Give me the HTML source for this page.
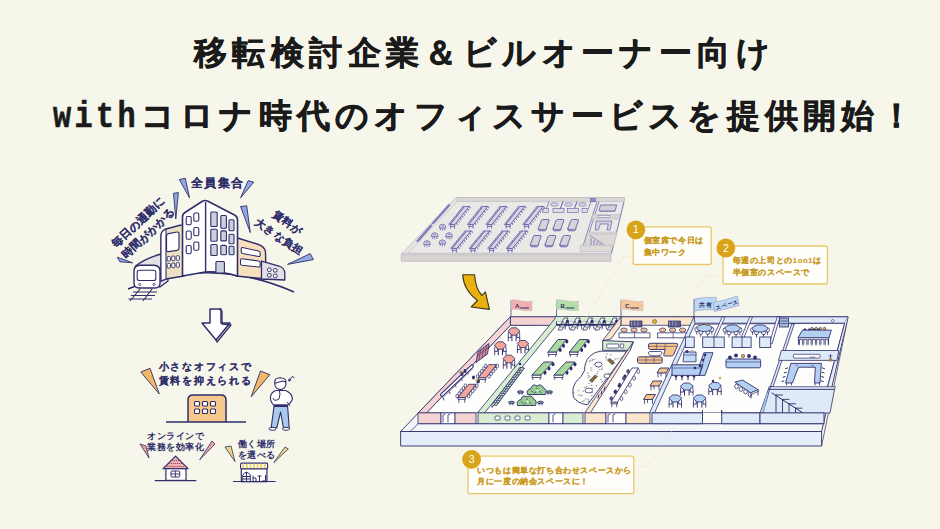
<!DOCTYPE html>
<html lang="ja"><head><meta charset="utf-8"><style>
html,body{margin:0;padding:0}
body{background:#f6f6ea;font-family:"Liberation Sans",sans-serif;width:940px;height:529px;position:relative;overflow:hidden}
.t{position:absolute;white-space:nowrap;font-weight:bold;color:#1a1a1a;-webkit-text-stroke:0.6px #1a1a1a;line-height:1.2}
svg{position:absolute;left:0;top:0}
svg text{font-family:"Liberation Sans",sans-serif}
.lb{stroke:#2f2e6b;stroke-width:0.08px}
</style></head><body>
<div class="t" style="left:194px;top:33.2px;font-size:33px;letter-spacing:5.4px">移転検討企業＆ビルオーナー向け</div>
<div class="t" style="left:53px;top:95.6px;font-size:33px;letter-spacing:5.25px"><span style="display:inline-block;font-family:'Liberation Mono',monospace;font-size:36px;letter-spacing:4.0px;transform:scaleX(0.84);transform-origin:0 0;margin-right:-14.5px">with</span>コロナ時代のオフィスサービスを提供開始！</div>
<svg width="940" height="529" viewBox="0 0 940 529">
<polygon points="179.3,179.5 185.3,178.3 189.5,197.8" fill="#93a8e2" stroke="#2f2e6b" stroke-width="0.9" stroke-linejoin="round"/>
<polygon points="248.2,180.6 253.8,182.2 240.6,197.8" fill="#93a8e2" stroke="#2f2e6b" stroke-width="0.9" stroke-linejoin="round"/>
<polygon points="173.5,193.3 178.4,192.6 175.8,219" fill="#93a8e2" stroke="#2f2e6b" stroke-width="0.9" stroke-linejoin="round"/>
<polygon points="117.3,257.2 119.9,261.8 132.7,262.8" fill="#93a8e2" stroke="#2f2e6b" stroke-width="0.9" stroke-linejoin="round"/>
<polygon points="240.6,206.6 246.7,205.8 250.3,232.6" fill="#93a8e2" stroke="#2f2e6b" stroke-width="0.9" stroke-linejoin="round"/>
<polygon points="310.2,253.6 313.4,259.6 287.5,264.4" fill="#93a8e2" stroke="#2f2e6b" stroke-width="0.9" stroke-linejoin="round"/>
<path d="M128,289 Q210,255 294,292" fill="none" stroke="#2f2e6b" stroke-width="1.6"/>
<path d="M135.4,266 Q146,258 161,254 L168,256 L168,281 L160,287 Z" fill="#e3e2e8" stroke="#2f2e6b" stroke-width="1.3" stroke-linejoin="round"/>
<path d="M134,271 Q134,265.5 140,265.2 L154,265.2 Q160,265.5 160,271 L160,283 Q160,288 155,288 L139,288 Q134,288 134,283 Z" fill="#fff" stroke="#2f2e6b" stroke-width="1.4"/>
<rect x="137.2" y="270.3" width="18.6" height="10.2" rx="2" fill="#fff" stroke="#2f2e6b" stroke-width="1.1"/>
<circle cx="139.7" cy="284.5" r="1.1" fill="#fff" stroke="#2f2e6b" stroke-width="0.8"/><circle cx="154.1" cy="284.5" r="1.1" fill="#fff" stroke="#2f2e6b" stroke-width="0.8"/>
<path d="M140,289 L130,301 M152,289 L143,301 M133,292 L157,292 M131,295.5 L155,295.5 M128.5,299 L152,299" stroke="#2f2e6b" stroke-width="1.1" fill="none"/>
<path d="M161,236 Q161,231 166,229 L180,225.2 Q184,224.5 184,228 L184,276 L166,279 L161,281 Z" fill="#ece2c2" stroke="#2f2e6b" stroke-width="1.4" stroke-linejoin="round"/>
<path d="M161,236 Q161,231 166,229 L166,279 L161,281 Z" fill="#fff" stroke="#2f2e6b" stroke-width="1.1"/>
<path d="M166.5,236 Q166.5,234 168.5,233.6 L177,232 Q179,231.8 179,234 L179,248 Q179,250 177,250.3 L168.5,251.6 Q166.5,252 166.5,250 Z" fill="#fff" stroke="#2f2e6b" stroke-width="1.2"/>
<rect x="167.2" y="256.5" width="3.2" height="4.6" rx="1" fill="#fff" stroke="#2f2e6b" stroke-width="0.95"/>
<rect x="171.7" y="256.1" width="3.2" height="4.6" rx="1" fill="#fff" stroke="#2f2e6b" stroke-width="0.95"/>
<rect x="176.2" y="255.7" width="3.2" height="4.6" rx="1" fill="#fff" stroke="#2f2e6b" stroke-width="0.95"/>
<rect x="167.2" y="263.5" width="3.2" height="4.6" rx="1" fill="#fff" stroke="#2f2e6b" stroke-width="0.95"/>
<rect x="171.7" y="263.1" width="3.2" height="4.6" rx="1" fill="#fff" stroke="#2f2e6b" stroke-width="0.95"/>
<rect x="176.2" y="262.7" width="3.2" height="4.6" rx="1" fill="#fff" stroke="#2f2e6b" stroke-width="0.95"/>
<path d="M236,237.5 L257,244 Q265,246.5 265.5,252 L266,279 L236,276 Z" fill="#f8dfbd" stroke="#2f2e6b" stroke-width="1.4" stroke-linejoin="round"/>
<path d="M242.5,247.5 L258.5,251 Q260.3,251.5 260.2,253 L260.2,255 Q260.2,256.8 258.5,256.5 L242.5,253.5 Q241.2,253.2 241.2,251.7 L241.2,249 Q241.2,247.3 242.5,247.5 Z" fill="#fff" stroke="#2f2e6b" stroke-width="1.1"/>
<path d="M242,258.8 L258.5,261 Q260.2,261.3 260.2,262.8 L260.2,265.5 Q260.2,267.2 258.5,267 L242,265.3 Q240.5,265.1 240.5,263.6 L240.5,260.3 Q240.5,258.6 242,258.8 Z" fill="#fff" stroke="#2f2e6b" stroke-width="1.1"/>
<path d="M261.5,261 L279,266 Q284.5,268 284.8,273 L284.8,280 L261.5,279 Z" fill="#e2e1e6" stroke="#2f2e6b" stroke-width="1.3" stroke-linejoin="round"/>
<rect x="267.5" y="268.0" width="3.6" height="3.4" rx="1.2" fill="#fff" stroke="#2f2e6b" stroke-width="1"/>
<rect x="273.5" y="268.6" width="3.6" height="3.4" rx="1.2" fill="#fff" stroke="#2f2e6b" stroke-width="1"/>
<rect x="267.5" y="273.6" width="3.6" height="3.4" rx="1.2" fill="#fff" stroke="#2f2e6b" stroke-width="1"/>
<rect x="273.5" y="274.2" width="3.6" height="3.4" rx="1.2" fill="#fff" stroke="#2f2e6b" stroke-width="1"/>
<path d="M182.5,276 L182.5,217 Q182.5,214 185,212.5 L202,201.5 Q204.8,199.8 207.5,201 L234.5,215 Q237.5,216.5 237.5,220 L237.5,276 Q220,271 205,272 Z" fill="#fff" stroke="#2f2e6b" stroke-width="1.6" stroke-linejoin="round"/>
<path d="M205.6,202 L205.6,273" stroke="#2f2e6b" stroke-width="1.4"/>
<rect x="186.2" y="216.5" width="5" height="8.2" rx="1.4" fill="#fff" stroke="#2f2e6b" stroke-width="1.1"/>
<rect x="193.79999999999998" y="213.0" width="5" height="8.2" rx="1.4" fill="#fff" stroke="#2f2e6b" stroke-width="1.1"/>
<rect x="186.2" y="231.0" width="5" height="8.2" rx="1.4" fill="#fff" stroke="#2f2e6b" stroke-width="1.1"/>
<rect x="193.79999999999998" y="227.5" width="5" height="8.2" rx="1.4" fill="#fff" stroke="#2f2e6b" stroke-width="1.1"/>
<rect x="186.2" y="245.5" width="5" height="8.2" rx="1.4" fill="#fff" stroke="#2f2e6b" stroke-width="1.1"/>
<rect x="193.79999999999998" y="242.0" width="5" height="8.2" rx="1.4" fill="#fff" stroke="#2f2e6b" stroke-width="1.1"/>
<rect x="210.8" y="212" width="6.4" height="14.5" rx="1" fill="#c9d0de" stroke="#2f2e6b" stroke-width="1.1"/>
<rect x="210.8" y="229.2" width="6.4" height="12" rx="1" fill="#c9d0de" stroke="#2f2e6b" stroke-width="1.1"/>
<rect x="210.8" y="244.5" width="6.4" height="11" rx="1" fill="#c9d0de" stroke="#2f2e6b" stroke-width="1.1"/>
<rect x="220.8" y="215.5" width="5.6" height="12.8" rx="1" fill="#c9d0de" stroke="#2f2e6b" stroke-width="1.1"/>
<rect x="220.8" y="230.9" width="5.6" height="10" rx="1" fill="#c9d0de" stroke="#2f2e6b" stroke-width="1.1"/>
<rect x="220.8" y="245.4" width="5.6" height="9.4" rx="1" fill="#c9d0de" stroke="#2f2e6b" stroke-width="1.1"/>
<rect x="229" y="219.8" width="5" height="11" rx="1" fill="#c9d0de" stroke="#2f2e6b" stroke-width="1.1"/>
<rect x="229" y="234.3" width="5" height="9.4" rx="1" fill="#c9d0de" stroke="#2f2e6b" stroke-width="1.1"/>
<rect x="229" y="246.2" width="5" height="8.5" rx="1" fill="#c9d0de" stroke="#2f2e6b" stroke-width="1.1"/>
<rect x="215.9" y="261.5" width="8.5" height="11.5" rx="1" fill="#c9d0de" stroke="#2f2e6b" stroke-width="1.1"/>
<text x="190.5" y="187" font-size="11.5" font-weight="bold" class="lb" fill="#2f2e6b" letter-spacing="1.6">全員集合</text>
<text transform="translate(116,248) rotate(-43)" font-size="11" font-weight="bold" class="lb" fill="#2f2e6b" letter-spacing="0.3">毎日の通勤に</text>
<text transform="translate(126,259) rotate(-43)" font-size="11" font-weight="bold" class="lb" fill="#2f2e6b" letter-spacing="0.3">時間がかかる</text>
<text transform="translate(271.5,215.5) rotate(36)" font-size="10.5" font-weight="bold" class="lb" fill="#2f2e6b" letter-spacing="0.3">賃料が</text>
<text transform="translate(254,224) rotate(34)" font-size="10.5" font-weight="bold" class="lb" fill="#2f2e6b" letter-spacing="0.3">大きな負担</text>
<path d="M210,309 L221,309 L221,323 L230,323 L216,340 L202,323 L210,323 Z" fill="#fff" stroke="#2f2e6b" stroke-width="1.5" stroke-linejoin="round"/>
<path d="M219,309 L222,311 L222,324 L231,325 L217,342 L216,340" fill="none" stroke="#2f2e6b" stroke-width="1.3" stroke-linejoin="round"/>
<text x="158.5" y="369.8" font-size="10.2" font-weight="bold" class="lb" fill="#2f2e6b" letter-spacing="1.8">小さなオフィスで</text>
<text x="158.5" y="383.6" font-size="10.2" font-weight="bold" class="lb" fill="#2f2e6b" letter-spacing="1.8">賃料を抑えられる</text>
<polygon points="140.8,372 150,368.3 159.3,394" fill="#f3b867" stroke="#2f2e6b" stroke-width="0.9" stroke-linejoin="round"/>
<polygon points="260.5,371 269.8,374.7 251.2,396.7" fill="#f3b867" stroke="#2f2e6b" stroke-width="0.9" stroke-linejoin="round"/>
<path d="M188,422 L188,400 Q188,395 193,395 L221,395 Q226,395 226,400 L226,422" fill="#f5c88d" stroke="#2f2e6b" stroke-width="1.5"/>
<rect x="194.5" y="401.5" width="5" height="4.5" rx="1" fill="#fff" stroke="#2f2e6b" stroke-width="1.1"/>
<rect x="202.5" y="401.5" width="5" height="4.5" rx="1" fill="#fff" stroke="#2f2e6b" stroke-width="1.1"/>
<rect x="210.5" y="401.5" width="5" height="4.5" rx="1" fill="#fff" stroke="#2f2e6b" stroke-width="1.1"/>
<rect x="194.5" y="409.0" width="5" height="4.5" rx="1" fill="#fff" stroke="#2f2e6b" stroke-width="1.1"/>
<rect x="202.5" y="409.0" width="5" height="4.5" rx="1" fill="#fff" stroke="#2f2e6b" stroke-width="1.1"/>
<rect x="210.5" y="409.0" width="5" height="4.5" rx="1" fill="#fff" stroke="#2f2e6b" stroke-width="1.1"/>
<path d="M166,422 L246,422" stroke="#2f2e6b" stroke-width="1.6"/>
<path d="M274,406.5 L271.2,427.8 L276.8,427.8 L280.6,412 L283.4,427.8 L289.2,427.8 L287.6,406.5 Z" fill="#aac8ee" stroke="#2f2e6b" stroke-width="1.1" stroke-linejoin="round"/>
<path d="M276,390.5 Q271,392 270.5,397 Q270,401 273.5,405 L287.8,405 Q291,403 292.5,399 Q292,393 285.5,390.5 Z" fill="#fff" stroke="#2f2e6b" stroke-width="1.1" stroke-linejoin="round"/>
<path d="M273,398 Q274,402 279,399 Q281,394 279,389" fill="none" stroke="#2f2e6b" stroke-width="1"/>
<path d="M287,402 L290,406" fill="none" stroke="#2f2e6b" stroke-width="0.9"/>
<rect x="273.5" y="404.6" width="14.3" height="2.2" fill="#2f2e6b"/>
<circle cx="280.4" cy="384" r="5.6" fill="#fff" stroke="#2f2e6b" stroke-width="1.1"/>
<path d="M274.8,383 Q274,378 280,377.8 Q286,378 286,382 L283,381 Q279,382 276,383 Z" fill="#fff" stroke="#2f2e6b" stroke-width="1.1" stroke-linejoin="round"/>
<ellipse cx="272.5" cy="428.8" rx="3.6" ry="1.5" fill="#fff" stroke="#2f2e6b" stroke-width="1"/><ellipse cx="286" cy="428.8" rx="3.6" ry="1.5" fill="#fff" stroke="#2f2e6b" stroke-width="1"/>
<path d="M290,380 L292,376.5 L294.5,377.5 M289.5,380.5 a1,0.8 0 1 1 0.1,0" fill="none" stroke="#2f2e6b" stroke-width="0.9"/>
<circle cx="289.4" cy="380.6" r="1" fill="#2f2e6b"/>
<text x="147" y="439.2" font-size="9" font-weight="bold" fill="#2f2e6b" letter-spacing="0.58">オンラインで</text>
<text x="147" y="450.2" font-size="9" font-weight="bold" fill="#2f2e6b" letter-spacing="0.58">業務を効率化</text>
<polygon points="140,444 146,446 149,458" fill="#eba3a3" stroke="#2f2e6b" stroke-width="0.8"/>
<polygon points="212,441 215,444 199.7,459.8" fill="#eba3a3" stroke="#2f2e6b" stroke-width="0.8"/>
<path d="M163.1,468.7 L175.6,456.2 L188,468.7 Z" fill="#f0b3b3" stroke="#2f2e6b" stroke-width="1.2" stroke-linejoin="round"/>
<path d="M172,460.5 l7,0 M169,463.5 l13,0 M166.5,466.5 l18,0" stroke="#a0485a" stroke-width="1.1" stroke-dasharray="1.2 0.8"/>
<rect x="165.9" y="468.7" width="20.1" height="11.7" fill="#fff" stroke="#2f2e6b" stroke-width="1.2"/>
<rect x="171" y="471" width="8.7" height="6" rx="1" fill="#fff" stroke="#2f2e6b" stroke-width="1"/>
<path d="M175.35,471 l0,6 M171,474 l8.7,0" stroke="#2f2e6b" stroke-width="0.9"/>
<path d="M154.8,480.6 L196.3,480.6" stroke="#2f2e6b" stroke-width="1.3"/>
<text x="237.6" y="446.6" font-size="9" font-weight="bold" fill="#2f2e6b" letter-spacing="0.55">働く場所</text>
<text x="237.6" y="457.6" font-size="9" font-weight="bold" fill="#2f2e6b" letter-spacing="0.55">を選べる</text>
<polygon points="225,447 231,446 235,461.6" fill="#f1d878" stroke="#2f2e6b" stroke-width="0.8"/>
<polygon points="285,447 288.3,449 273.8,462.5" fill="#f1d878" stroke="#2f2e6b" stroke-width="0.8"/>
<rect x="241.3" y="468.7" width="25.6" height="13" fill="#fff" stroke="#2f2e6b" stroke-width="1.2"/>
<rect x="240.6" y="463.1" width="27" height="5.6" rx="1" fill="#fff" stroke="#2f2e6b" stroke-width="1.1"/>
<rect x="242.2" y="463.8" width="2" height="4.2" fill="#f0d46a"/>
<rect x="245.8" y="463.8" width="2" height="4.2" fill="#f0d46a"/>
<rect x="249.4" y="463.8" width="2" height="4.2" fill="#f0d46a"/>
<rect x="253.0" y="463.8" width="2" height="4.2" fill="#f0d46a"/>
<rect x="256.6" y="463.8" width="2" height="4.2" fill="#f0d46a"/>
<rect x="260.2" y="463.8" width="2" height="4.2" fill="#f0d46a"/>
<rect x="263.8" y="463.8" width="2" height="4.2" fill="#f0d46a"/>
<path d="M242.8,481.8 L242.8,475 Q246.5,469.5 250.3,475 L250.3,481.8 M246.5,472 l0,9.8 M242.8,476.5 l7.5,0 M242.8,479 l7.5,0" fill="none" stroke="#2f2e6b" stroke-width="1"/>
<path d="M253,481.5 l0,-6 M253,478 l3,0 l0,3.5 M257.5,476 l4,0 M259.5,476 l0,5.5 M262,481 l3.5,0 l0,-6" fill="none" stroke="#2f2e6b" stroke-width="1"/>
<path d="M233,481.5 L275.6,481.5" stroke="#2f2e6b" stroke-width="1.2"/>
<polygon points="456.2,197.6 624.6,197.6 611,254 401.3,254" fill="#e6e4e0" stroke="#bdb9c9" stroke-width="0.8"/>
<polygon points="401.3,254 611,254 611,261.2 401.3,261.2" fill="#d9d6d2" stroke="#bdb9c9" stroke-width="0.8"/>
<path d="M401.3,255.3 L611,255.3" stroke="#cbc8c6" stroke-width="0.6"/>
<polygon points="456.2,197.6 624.6,197.6 624,201.6 457,201.6" fill="#d9d6d2" stroke="#bdb9c9" stroke-width="0.6"/>
<polygon points="457,201.6 624,201.6 611.5,253.2 408,253.2" fill="#ebe9e6" stroke="#bdb9c9" stroke-width="0.6"/>
<path d="M417.5,241 L431,225.5 M433,223 L449,205" stroke="#8d8bc4" stroke-width="2.4" stroke-linecap="round"/>
<path d="M418.5,241 L431.5,226 M433.5,223.5 L449.5,205.5" stroke="#625fad" stroke-width="0.9" stroke-linecap="round" stroke-dasharray="2 1"/>
<path d="M451.1,222.6 l-2.2,1.2 l0.4,1.2 M455.3,222.6 l2.2,1.2 l-0.4,1.2" stroke="#625fad" stroke-width="0.85" fill="none"/>
<path d="M452.9,220.2 l-2.2,1.2 l0.4,1.2 M457.1,220.2 l2.2,1.2 l-0.4,1.2" stroke="#625fad" stroke-width="0.85" fill="none"/>
<path d="M454.8,217.9 l-2.2,1.2 l0.4,1.2 M459.0,217.9 l2.2,1.2 l-0.4,1.2" stroke="#625fad" stroke-width="0.85" fill="none"/>
<path d="M456.7,215.5 l-2.2,1.2 l0.4,1.2 M460.9,215.5 l2.2,1.2 l-0.4,1.2" stroke="#625fad" stroke-width="0.85" fill="none"/>
<path d="M458.5,213.1 l-2.2,1.2 l0.4,1.2 M462.7,213.1 l2.2,1.2 l-0.4,1.2" stroke="#625fad" stroke-width="0.85" fill="none"/>
<path d="M460.4,210.7 l-2.2,1.2 l0.4,1.2 M464.6,210.7 l2.2,1.2 l-0.4,1.2" stroke="#625fad" stroke-width="0.85" fill="none"/>
<path d="M462.3,208.4 l-2.2,1.2 l0.4,1.2 M466.5,208.4 l2.2,1.2 l-0.4,1.2" stroke="#625fad" stroke-width="0.85" fill="none"/>
<path d="M464.1,206.0 l-2.2,1.2 l0.4,1.2 M468.3,206.0 l2.2,1.2 l-0.4,1.2" stroke="#625fad" stroke-width="0.85" fill="none"/>
<path d="M450.3,224.5 L464.5,206.5 L469.1,206.5 L454.90000000000003,224.5 Z" fill="#d6d4dc" stroke="#625fad" stroke-width="0.9" stroke-linejoin="round"/>
<path d="M450.3,224.5 l0,1.8 l4.6,0 l0,-1.8 M450.7,226.3 l0,2.2 M454.50000000000006,226.3 l0,2.2" stroke="#625fad" stroke-width="0.9" fill="none"/>
<path d="M469.6,222.6 l-2.2,1.2 l0.4,1.2 M473.8,222.6 l2.2,1.2 l-0.4,1.2" stroke="#625fad" stroke-width="0.85" fill="none"/>
<path d="M471.4,220.2 l-2.2,1.2 l0.4,1.2 M475.6,220.2 l2.2,1.2 l-0.4,1.2" stroke="#625fad" stroke-width="0.85" fill="none"/>
<path d="M473.3,217.9 l-2.2,1.2 l0.4,1.2 M477.5,217.9 l2.2,1.2 l-0.4,1.2" stroke="#625fad" stroke-width="0.85" fill="none"/>
<path d="M475.2,215.5 l-2.2,1.2 l0.4,1.2 M479.4,215.5 l2.2,1.2 l-0.4,1.2" stroke="#625fad" stroke-width="0.85" fill="none"/>
<path d="M477.0,213.1 l-2.2,1.2 l0.4,1.2 M481.2,213.1 l2.2,1.2 l-0.4,1.2" stroke="#625fad" stroke-width="0.85" fill="none"/>
<path d="M478.9,210.7 l-2.2,1.2 l0.4,1.2 M483.1,210.7 l2.2,1.2 l-0.4,1.2" stroke="#625fad" stroke-width="0.85" fill="none"/>
<path d="M480.8,208.4 l-2.2,1.2 l0.4,1.2 M485.0,208.4 l2.2,1.2 l-0.4,1.2" stroke="#625fad" stroke-width="0.85" fill="none"/>
<path d="M482.6,206.0 l-2.2,1.2 l0.4,1.2 M486.8,206.0 l2.2,1.2 l-0.4,1.2" stroke="#625fad" stroke-width="0.85" fill="none"/>
<path d="M468.8,224.5 L483.0,206.5 L487.6,206.5 L473.40000000000003,224.5 Z" fill="#d6d4dc" stroke="#625fad" stroke-width="0.9" stroke-linejoin="round"/>
<path d="M468.8,224.5 l0,1.8 l4.6,0 l0,-1.8 M469.2,226.3 l0,2.2 M473.00000000000006,226.3 l0,2.2" stroke="#625fad" stroke-width="0.9" fill="none"/>
<path d="M488.1,222.6 l-2.2,1.2 l0.4,1.2 M492.3,222.6 l2.2,1.2 l-0.4,1.2" stroke="#625fad" stroke-width="0.85" fill="none"/>
<path d="M489.9,220.2 l-2.2,1.2 l0.4,1.2 M494.1,220.2 l2.2,1.2 l-0.4,1.2" stroke="#625fad" stroke-width="0.85" fill="none"/>
<path d="M491.8,217.9 l-2.2,1.2 l0.4,1.2 M496.0,217.9 l2.2,1.2 l-0.4,1.2" stroke="#625fad" stroke-width="0.85" fill="none"/>
<path d="M493.7,215.5 l-2.2,1.2 l0.4,1.2 M497.9,215.5 l2.2,1.2 l-0.4,1.2" stroke="#625fad" stroke-width="0.85" fill="none"/>
<path d="M495.5,213.1 l-2.2,1.2 l0.4,1.2 M499.7,213.1 l2.2,1.2 l-0.4,1.2" stroke="#625fad" stroke-width="0.85" fill="none"/>
<path d="M497.4,210.7 l-2.2,1.2 l0.4,1.2 M501.6,210.7 l2.2,1.2 l-0.4,1.2" stroke="#625fad" stroke-width="0.85" fill="none"/>
<path d="M499.3,208.4 l-2.2,1.2 l0.4,1.2 M503.5,208.4 l2.2,1.2 l-0.4,1.2" stroke="#625fad" stroke-width="0.85" fill="none"/>
<path d="M501.1,206.0 l-2.2,1.2 l0.4,1.2 M505.3,206.0 l2.2,1.2 l-0.4,1.2" stroke="#625fad" stroke-width="0.85" fill="none"/>
<path d="M487.3,224.5 L501.5,206.5 L506.1,206.5 L491.90000000000003,224.5 Z" fill="#d6d4dc" stroke="#625fad" stroke-width="0.9" stroke-linejoin="round"/>
<path d="M487.3,224.5 l0,1.8 l4.6,0 l0,-1.8 M487.7,226.3 l0,2.2 M491.50000000000006,226.3 l0,2.2" stroke="#625fad" stroke-width="0.9" fill="none"/>
<path d="M506.6,222.6 l-2.2,1.2 l0.4,1.2 M510.8,222.6 l2.2,1.2 l-0.4,1.2" stroke="#625fad" stroke-width="0.85" fill="none"/>
<path d="M508.4,220.2 l-2.2,1.2 l0.4,1.2 M512.6,220.2 l2.2,1.2 l-0.4,1.2" stroke="#625fad" stroke-width="0.85" fill="none"/>
<path d="M510.3,217.9 l-2.2,1.2 l0.4,1.2 M514.5,217.9 l2.2,1.2 l-0.4,1.2" stroke="#625fad" stroke-width="0.85" fill="none"/>
<path d="M512.2,215.5 l-2.2,1.2 l0.4,1.2 M516.4,215.5 l2.2,1.2 l-0.4,1.2" stroke="#625fad" stroke-width="0.85" fill="none"/>
<path d="M514.0,213.1 l-2.2,1.2 l0.4,1.2 M518.2,213.1 l2.2,1.2 l-0.4,1.2" stroke="#625fad" stroke-width="0.85" fill="none"/>
<path d="M515.9,210.7 l-2.2,1.2 l0.4,1.2 M520.1,210.7 l2.2,1.2 l-0.4,1.2" stroke="#625fad" stroke-width="0.85" fill="none"/>
<path d="M517.8,208.4 l-2.2,1.2 l0.4,1.2 M522.0,208.4 l2.2,1.2 l-0.4,1.2" stroke="#625fad" stroke-width="0.85" fill="none"/>
<path d="M519.6,206.0 l-2.2,1.2 l0.4,1.2 M523.8,206.0 l2.2,1.2 l-0.4,1.2" stroke="#625fad" stroke-width="0.85" fill="none"/>
<path d="M505.8,224.5 L520.0,206.5 L524.6,206.5 L510.40000000000003,224.5 Z" fill="#d6d4dc" stroke="#625fad" stroke-width="0.9" stroke-linejoin="round"/>
<path d="M505.8,224.5 l0,1.8 l4.6,0 l0,-1.8 M506.2,226.3 l0,2.2 M510.00000000000006,226.3 l0,2.2" stroke="#625fad" stroke-width="0.9" fill="none"/>
<path d="M525.1,222.6 l-2.2,1.2 l0.4,1.2 M529.3,222.6 l2.2,1.2 l-0.4,1.2" stroke="#625fad" stroke-width="0.85" fill="none"/>
<path d="M526.9,220.2 l-2.2,1.2 l0.4,1.2 M531.1,220.2 l2.2,1.2 l-0.4,1.2" stroke="#625fad" stroke-width="0.85" fill="none"/>
<path d="M528.8,217.9 l-2.2,1.2 l0.4,1.2 M533.0,217.9 l2.2,1.2 l-0.4,1.2" stroke="#625fad" stroke-width="0.85" fill="none"/>
<path d="M530.7,215.5 l-2.2,1.2 l0.4,1.2 M534.9,215.5 l2.2,1.2 l-0.4,1.2" stroke="#625fad" stroke-width="0.85" fill="none"/>
<path d="M532.5,213.1 l-2.2,1.2 l0.4,1.2 M536.7,213.1 l2.2,1.2 l-0.4,1.2" stroke="#625fad" stroke-width="0.85" fill="none"/>
<path d="M534.4,210.7 l-2.2,1.2 l0.4,1.2 M538.6,210.7 l2.2,1.2 l-0.4,1.2" stroke="#625fad" stroke-width="0.85" fill="none"/>
<path d="M536.3,208.4 l-2.2,1.2 l0.4,1.2 M540.5,208.4 l2.2,1.2 l-0.4,1.2" stroke="#625fad" stroke-width="0.85" fill="none"/>
<path d="M538.1,206.0 l-2.2,1.2 l0.4,1.2 M542.3,206.0 l2.2,1.2 l-0.4,1.2" stroke="#625fad" stroke-width="0.85" fill="none"/>
<path d="M524.3,224.5 L538.5,206.5 L543.1,206.5 L528.9,224.5 Z" fill="#d6d4dc" stroke="#625fad" stroke-width="0.9" stroke-linejoin="round"/>
<path d="M524.3,224.5 l0,1.8 l4.6,0 l0,-1.8 M524.6999999999999,226.3 l0,2.2 M528.5,226.3 l0,2.2" stroke="#625fad" stroke-width="0.9" fill="none"/>
<path d="M453.0,246.6 l-2.2,1.2 l0.4,1.2 M457.2,246.6 l2.2,1.2 l-0.4,1.2" stroke="#625fad" stroke-width="0.85" fill="none"/>
<path d="M454.8,244.3 l-2.2,1.2 l0.4,1.2 M459.0,244.3 l2.2,1.2 l-0.4,1.2" stroke="#625fad" stroke-width="0.85" fill="none"/>
<path d="M456.7,242.0 l-2.2,1.2 l0.4,1.2 M460.9,242.0 l2.2,1.2 l-0.4,1.2" stroke="#625fad" stroke-width="0.85" fill="none"/>
<path d="M458.6,239.7 l-2.2,1.2 l0.4,1.2 M462.8,239.7 l2.2,1.2 l-0.4,1.2" stroke="#625fad" stroke-width="0.85" fill="none"/>
<path d="M460.5,237.4 l-2.2,1.2 l0.4,1.2 M464.7,237.4 l2.2,1.2 l-0.4,1.2" stroke="#625fad" stroke-width="0.85" fill="none"/>
<path d="M462.4,235.1 l-2.2,1.2 l0.4,1.2 M466.6,235.1 l2.2,1.2 l-0.4,1.2" stroke="#625fad" stroke-width="0.85" fill="none"/>
<path d="M464.3,232.8 l-2.2,1.2 l0.4,1.2 M468.5,232.8 l2.2,1.2 l-0.4,1.2" stroke="#625fad" stroke-width="0.85" fill="none"/>
<path d="M466.1,230.5 l-2.2,1.2 l0.4,1.2 M470.3,230.5 l2.2,1.2 l-0.4,1.2" stroke="#625fad" stroke-width="0.85" fill="none"/>
<path d="M452.2,248.5 L466.5,231 L471.1,231 L456.8,248.5 Z" fill="#d6d4dc" stroke="#625fad" stroke-width="0.9" stroke-linejoin="round"/>
<path d="M452.2,248.5 l0,1.8 l4.6,0 l0,-1.8 M452.59999999999997,250.3 l0,2.2 M456.40000000000003,250.3 l0,2.2" stroke="#625fad" stroke-width="0.9" fill="none"/>
<path d="M471.5,246.6 l-2.2,1.2 l0.4,1.2 M475.7,246.6 l2.2,1.2 l-0.4,1.2" stroke="#625fad" stroke-width="0.85" fill="none"/>
<path d="M473.3,244.3 l-2.2,1.2 l0.4,1.2 M477.5,244.3 l2.2,1.2 l-0.4,1.2" stroke="#625fad" stroke-width="0.85" fill="none"/>
<path d="M475.2,242.0 l-2.2,1.2 l0.4,1.2 M479.4,242.0 l2.2,1.2 l-0.4,1.2" stroke="#625fad" stroke-width="0.85" fill="none"/>
<path d="M477.1,239.7 l-2.2,1.2 l0.4,1.2 M481.3,239.7 l2.2,1.2 l-0.4,1.2" stroke="#625fad" stroke-width="0.85" fill="none"/>
<path d="M479.0,237.4 l-2.2,1.2 l0.4,1.2 M483.2,237.4 l2.2,1.2 l-0.4,1.2" stroke="#625fad" stroke-width="0.85" fill="none"/>
<path d="M480.9,235.1 l-2.2,1.2 l0.4,1.2 M485.1,235.1 l2.2,1.2 l-0.4,1.2" stroke="#625fad" stroke-width="0.85" fill="none"/>
<path d="M482.8,232.8 l-2.2,1.2 l0.4,1.2 M487.0,232.8 l2.2,1.2 l-0.4,1.2" stroke="#625fad" stroke-width="0.85" fill="none"/>
<path d="M484.6,230.5 l-2.2,1.2 l0.4,1.2 M488.8,230.5 l2.2,1.2 l-0.4,1.2" stroke="#625fad" stroke-width="0.85" fill="none"/>
<path d="M470.7,248.5 L485.0,231 L489.6,231 L475.3,248.5 Z" fill="#d6d4dc" stroke="#625fad" stroke-width="0.9" stroke-linejoin="round"/>
<path d="M470.7,248.5 l0,1.8 l4.6,0 l0,-1.8 M471.09999999999997,250.3 l0,2.2 M474.90000000000003,250.3 l0,2.2" stroke="#625fad" stroke-width="0.9" fill="none"/>
<path d="M490.0,246.6 l-2.2,1.2 l0.4,1.2 M494.2,246.6 l2.2,1.2 l-0.4,1.2" stroke="#625fad" stroke-width="0.85" fill="none"/>
<path d="M491.8,244.3 l-2.2,1.2 l0.4,1.2 M496.0,244.3 l2.2,1.2 l-0.4,1.2" stroke="#625fad" stroke-width="0.85" fill="none"/>
<path d="M493.7,242.0 l-2.2,1.2 l0.4,1.2 M497.9,242.0 l2.2,1.2 l-0.4,1.2" stroke="#625fad" stroke-width="0.85" fill="none"/>
<path d="M495.6,239.7 l-2.2,1.2 l0.4,1.2 M499.8,239.7 l2.2,1.2 l-0.4,1.2" stroke="#625fad" stroke-width="0.85" fill="none"/>
<path d="M497.5,237.4 l-2.2,1.2 l0.4,1.2 M501.7,237.4 l2.2,1.2 l-0.4,1.2" stroke="#625fad" stroke-width="0.85" fill="none"/>
<path d="M499.4,235.1 l-2.2,1.2 l0.4,1.2 M503.6,235.1 l2.2,1.2 l-0.4,1.2" stroke="#625fad" stroke-width="0.85" fill="none"/>
<path d="M501.3,232.8 l-2.2,1.2 l0.4,1.2 M505.5,232.8 l2.2,1.2 l-0.4,1.2" stroke="#625fad" stroke-width="0.85" fill="none"/>
<path d="M503.1,230.5 l-2.2,1.2 l0.4,1.2 M507.3,230.5 l2.2,1.2 l-0.4,1.2" stroke="#625fad" stroke-width="0.85" fill="none"/>
<path d="M489.2,248.5 L503.5,231 L508.1,231 L493.8,248.5 Z" fill="#d6d4dc" stroke="#625fad" stroke-width="0.9" stroke-linejoin="round"/>
<path d="M489.2,248.5 l0,1.8 l4.6,0 l0,-1.8 M489.59999999999997,250.3 l0,2.2 M493.40000000000003,250.3 l0,2.2" stroke="#625fad" stroke-width="0.9" fill="none"/>
<path d="M508.5,246.6 l-2.2,1.2 l0.4,1.2 M512.7,246.6 l2.2,1.2 l-0.4,1.2" stroke="#625fad" stroke-width="0.85" fill="none"/>
<path d="M510.3,244.3 l-2.2,1.2 l0.4,1.2 M514.5,244.3 l2.2,1.2 l-0.4,1.2" stroke="#625fad" stroke-width="0.85" fill="none"/>
<path d="M512.2,242.0 l-2.2,1.2 l0.4,1.2 M516.4,242.0 l2.2,1.2 l-0.4,1.2" stroke="#625fad" stroke-width="0.85" fill="none"/>
<path d="M514.1,239.7 l-2.2,1.2 l0.4,1.2 M518.3,239.7 l2.2,1.2 l-0.4,1.2" stroke="#625fad" stroke-width="0.85" fill="none"/>
<path d="M516.0,237.4 l-2.2,1.2 l0.4,1.2 M520.2,237.4 l2.2,1.2 l-0.4,1.2" stroke="#625fad" stroke-width="0.85" fill="none"/>
<path d="M517.9,235.1 l-2.2,1.2 l0.4,1.2 M522.1,235.1 l2.2,1.2 l-0.4,1.2" stroke="#625fad" stroke-width="0.85" fill="none"/>
<path d="M519.8,232.8 l-2.2,1.2 l0.4,1.2 M524.0,232.8 l2.2,1.2 l-0.4,1.2" stroke="#625fad" stroke-width="0.85" fill="none"/>
<path d="M521.6,230.5 l-2.2,1.2 l0.4,1.2 M525.8,230.5 l2.2,1.2 l-0.4,1.2" stroke="#625fad" stroke-width="0.85" fill="none"/>
<path d="M507.7,248.5 L522.0,231 L526.6,231 L512.3,248.5 Z" fill="#d6d4dc" stroke="#625fad" stroke-width="0.9" stroke-linejoin="round"/>
<path d="M507.7,248.5 l0,1.8 l4.6,0 l0,-1.8 M508.09999999999997,250.3 l0,2.2 M511.9,250.3 l0,2.2" stroke="#625fad" stroke-width="0.9" fill="none"/>
<path d="M439.20000000000005,228.10000000000002 Q439.20000000000005,224.10000000000002 442.6,224.10000000000002 Q446.0,224.10000000000002 446.0,228.10000000000002 Z" fill="#dcdae2" stroke="#625fad" stroke-width="0.75"/>
<path d="M440.8,228.10000000000002 l-0.6,2.4 M442.6,228.10000000000002 l0,2.8 M444.40000000000003,228.10000000000002 l0.6,2.4 M441.40000000000003,226.10000000000002 l2.4,0" stroke="#625fad" stroke-width="0.7"/>
<path d="M431.3,236.60000000000002 Q431.3,232.60000000000002 434.7,232.60000000000002 Q438.09999999999997,232.60000000000002 438.09999999999997,236.60000000000002 Z" fill="#dcdae2" stroke="#625fad" stroke-width="0.75"/>
<path d="M432.9,236.60000000000002 l-0.6,2.4 M434.7,236.60000000000002 l0,2.8 M436.5,236.60000000000002 l0.6,2.4 M433.5,234.60000000000002 l2.4,0" stroke="#625fad" stroke-width="0.7"/>
<path d="M445.6,236.60000000000002 Q445.6,232.60000000000002 449,232.60000000000002 Q452.4,232.60000000000002 452.4,236.60000000000002 Z" fill="#dcdae2" stroke="#625fad" stroke-width="0.75"/>
<path d="M447.2,236.60000000000002 l-0.6,2.4 M449,236.60000000000002 l0,2.8 M450.8,236.60000000000002 l0.6,2.4 M447.8,234.60000000000002 l2.4,0" stroke="#625fad" stroke-width="0.7"/>
<path d="M423.6,244.5 Q423.6,240.5 427,240.5 Q430.4,240.5 430.4,244.5 Z" fill="#dcdae2" stroke="#625fad" stroke-width="0.75"/>
<path d="M425.2,244.5 l-0.6,2.4 M427,244.5 l0,2.8 M428.8,244.5 l0.6,2.4 M425.8,242.5 l2.4,0" stroke="#625fad" stroke-width="0.7"/>
<path d="M439.0,243.8 Q439.0,239.8 442.4,239.8 Q445.79999999999995,239.8 445.79999999999995,243.8 Z" fill="#dcdae2" stroke="#625fad" stroke-width="0.75"/>
<path d="M440.59999999999997,243.8 l-0.6,2.4 M442.4,243.8 l0,2.8 M444.2,243.8 l0.6,2.4 M441.2,241.8 l2.4,0" stroke="#625fad" stroke-width="0.7"/>
<path d="M543.0,219.5 l5,0 q1.5,0 1,1.5 l-2.8,7.5 q-0.5,1.2 -2,1.2 l-5,0 q-1.2,0 -0.8,-1.2 l2.8,-7.5 q0.5,-1.5 1.8,-1.5 z" fill="#d6d4da" stroke="#625fad" stroke-width="0.9"/>
<path d="M538.7,228.0 l0,1.8 q0,1 1,1 l5,0 q1.2,0 1.5,-1 l0.4,-1.6" fill="none" stroke="#625fad" stroke-width="0.9"/>
<path d="M557.7,219.5 l5,0 q1.5,0 1,1.5 l-2.8,7.5 q-0.5,1.2 -2,1.2 l-5,0 q-1.2,0 -0.8,-1.2 l2.8,-7.5 q0.5,-1.5 1.8,-1.5 z" fill="#d6d4da" stroke="#625fad" stroke-width="0.9"/>
<path d="M553.4000000000001,228.0 l0,1.8 q0,1 1,1 l5,0 q1.2,0 1.5,-1 l0.4,-1.6" fill="none" stroke="#625fad" stroke-width="0.9"/>
<path d="M572.4,219.5 l5,0 q1.5,0 1,1.5 l-2.8,7.5 q-0.5,1.2 -2,1.2 l-5,0 q-1.2,0 -0.8,-1.2 l2.8,-7.5 q0.5,-1.5 1.8,-1.5 z" fill="#d6d4da" stroke="#625fad" stroke-width="0.9"/>
<path d="M568.1,228.0 l0,1.8 q0,1 1,1 l5,0 q1.2,0 1.5,-1 l0.4,-1.6" fill="none" stroke="#625fad" stroke-width="0.9"/>
<path d="M535.0,235.5 l5,0 q1.5,0 1,1.5 l-2.8,7.5 q-0.5,1.2 -2,1.2 l-5,0 q-1.2,0 -0.8,-1.2 l2.8,-7.5 q0.5,-1.5 1.8,-1.5 z" fill="#d6d4da" stroke="#625fad" stroke-width="0.9"/>
<path d="M530.7,244.0 l0,1.8 q0,1 1,1 l5,0 q1.2,0 1.5,-1 l0.4,-1.6" fill="none" stroke="#625fad" stroke-width="0.9"/>
<path d="M549.7,235.5 l5,0 q1.5,0 1,1.5 l-2.8,7.5 q-0.5,1.2 -2,1.2 l-5,0 q-1.2,0 -0.8,-1.2 l2.8,-7.5 q0.5,-1.5 1.8,-1.5 z" fill="#d6d4da" stroke="#625fad" stroke-width="0.9"/>
<path d="M545.4000000000001,244.0 l0,1.8 q0,1 1,1 l5,0 q1.2,0 1.5,-1 l0.4,-1.6" fill="none" stroke="#625fad" stroke-width="0.9"/>
<path d="M564.4,235.5 l5,0 q1.5,0 1,1.5 l-2.8,7.5 q-0.5,1.2 -2,1.2 l-5,0 q-1.2,0 -0.8,-1.2 l2.8,-7.5 q0.5,-1.5 1.8,-1.5 z" fill="#d6d4da" stroke="#625fad" stroke-width="0.9"/>
<path d="M560.1,244.0 l0,1.8 q0,1 1,1 l5,0 q1.2,0 1.5,-1 l0.4,-1.6" fill="none" stroke="#625fad" stroke-width="0.9"/>
<path d="M549,201.6 l-3,8 M563,201.6 l-3,8" stroke="#625fad" stroke-width="0.7"/>
<ellipse cx="554.5" cy="204.5" rx="4" ry="1.7" fill="#dcdae2" stroke="#625fad" stroke-width="0.6"/>
<path d="M563,201.6 l-3,8 M577,201.6 l-3,8" stroke="#625fad" stroke-width="0.7"/>
<ellipse cx="568.5" cy="204.5" rx="4" ry="1.7" fill="#dcdae2" stroke="#625fad" stroke-width="0.6"/>
<path d="M577,201.6 l-3,8 M591,201.6 l-3,8" stroke="#625fad" stroke-width="0.7"/>
<ellipse cx="582.5" cy="204.5" rx="4" ry="1.7" fill="#dcdae2" stroke="#625fad" stroke-width="0.6"/>
<rect x="543" y="208.5" width="5.5" height="4" fill="#dedce2" stroke="#625fad" stroke-width="0.6"/>
<rect x="553" y="208.5" width="11" height="4" fill="#dedce2" stroke="#625fad" stroke-width="0.6"/>
<rect x="567.5" y="208.5" width="11" height="4" fill="#dedce2" stroke="#625fad" stroke-width="0.6"/>
<rect x="582" y="208.5" width="5.5" height="4" fill="#dedce2" stroke="#625fad" stroke-width="0.6"/>
<rect x="590.5" y="198.3" width="5" height="3.5" fill="#8d8bc0" stroke="#625fad" stroke-width="0.5"/>
<path d="M597,201.6 L581.6,250.3 M599,201.6 L583.6,250.3" stroke="#625fad" stroke-width="0.7"/>
<path d="M624,201.6 L611.5,253.2" stroke="#625fad" stroke-width="0.7"/>
<polygon points="600.5,205 616.6,205 615,211 599,211" fill="#d4d2d8" stroke="#625fad" stroke-width="0.8"/>
<path d="M600,211.5 l15,0" stroke="#625fad" stroke-width="0.9" stroke-dasharray="1 0.8"/>
<polygon points="593,214.6 620,214.6 619,219 591.5,219" fill="#d9d6d2" stroke="#bdb9c9" stroke-width="0.6"/>
<rect x="598" y="215.6" width="12" height="1.6" fill="#eeecea" stroke="#625fad" stroke-width="0.4"/>
<path d="M596,221 l16,0 l-2,9 l-3,0 l1.3,-6 l-8,0 l-2,6 l-3,0 z" fill="#d4d2d8" stroke="#625fad" stroke-width="0.7"/>
<polygon points="588,232 617,232 616.5,234.3 587.5,234.3" fill="#d9d6d2" stroke="#bdb9c9" stroke-width="0.5"/>
<polygon points="587.5,234.3 616.5,234.3 614,245.4 585,245.4" fill="#dcd9d4" stroke="#bdb9c9" stroke-width="0.5"/>
<path d="M590,235.5 L604,245 M591,238 l0,7 M594,240 l0,5 M597,242 l0,3 M600,243.5 l0,2" stroke="#625fad" stroke-width="0.7"/>
<polygon points="580,245.4 611,245.4 611,251.5 580,251.5" fill="#dedbd7" stroke="#bdb9c9" stroke-width="0.6"/>
<path d="M462.7,274.8 L474.6,274.8 Q475.5,289 482,295.5 L485.4,291.8 L489.4,309.4 L471.2,307 L477.5,300.5 Q463.5,290 462.7,274.8 Z" fill="#e9b10e" stroke="#3d3418" stroke-width="1.1" stroke-linejoin="round"/>
<polygon points="510.3,316.8 848,316.8 821.6,431.5 400.6,431.5" fill="#f3f6fb" stroke="#2f2e6b" stroke-width="0.9"/>
<polygon points="400.6,431.5 821.6,431.5 821.6,446 400.6,446" fill="#e4edf9" stroke="#2f2e6b" stroke-width="0.9"/>
<path d="M821.6,446 L848,317.5" stroke="#2f2e6b" stroke-width="0.7"/>
<path d="M418.3,423.7 L410,431.5" stroke="#2f2e6b" stroke-width="0.7"/>
<polygon points="510.3,325.3 844.7,323.2 820.5,412.9 426.5,412.9" fill="#fefefd" stroke="#2f2e6b" stroke-width="0.9"/>
<polygon points="510.3,316.8 556.5,316.8 556.5,325.3 510.3,325.3" fill="#f5d3d3" stroke="#2f2e6b" stroke-width="0.8"/>
<polygon points="556.5,316.8 620.9,316.8 620.9,325.3 556.5,325.3" fill="#d8edd2" stroke="#2f2e6b" stroke-width="0.8"/>
<polygon points="620.9,316.8 694,316.8 694,325.3 620.9,325.3" fill="#fbe6cc" stroke="#2f2e6b" stroke-width="0.8"/>
<polygon points="694,316.8 848,316.8 844.7,323.2 694,323.2" fill="#dfeaf8" stroke="#2f2e6b" stroke-width="0.8"/>
<polygon points="510.3,316.8 510.3,325.3 426.5,412.9 418.3,412.9" fill="#f5d3d3" stroke="#2f2e6b" stroke-width="0.8"/>
<polygon points="848,316.8 844.7,323.2 820.5,412.9 823.5,412.9" fill="#dfeaf8" stroke="none"/>
<path d="M844.7,323.2 L820.5,412.9" stroke="#2f2e6b" stroke-width="0.8"/>
<path d="M511.9,335.2 l0,5.6 M516.1,335.2 l0,5.6" fill="none" stroke="#2f2e6b" stroke-width="1.0" stroke-linejoin="round" stroke-linecap="round"/>
<path d="M508.3,337.5 l0,-3.4 q0,-2.2 1.7,-2.2 l1.0,0 l0,5.6 z" fill="#fff" stroke="#2f2e6b" stroke-width="0.85" stroke-linejoin="round"/>
<path d="M508.3,337.5 l0,3.4" fill="none" stroke="#2f2e6b" stroke-width="0.85" stroke-linejoin="round" stroke-linecap="round"/>
<path d="M519.7,337.5 l0,-3.4 q0,-2.2 -1.7,-2.2 l-1.0,0 l0,5.6 z" fill="#fff" stroke="#2f2e6b" stroke-width="0.85" stroke-linejoin="round"/>
<path d="M519.7,337.5 l0,3.4" fill="none" stroke="#2f2e6b" stroke-width="0.85" stroke-linejoin="round" stroke-linecap="round"/>
<polygon points="508.0,331.1 511.6,327.8 516.4,327.8 520.0,331.1 516.4,335.2 511.6,335.2" fill="#f2a79b" stroke="#2f2e6b" stroke-width="0.85" stroke-linejoin="round"/>
<path d="M498.3,349.2 l0,5.6 M502.5,349.2 l0,5.6" fill="none" stroke="#2f2e6b" stroke-width="1.0" stroke-linejoin="round" stroke-linecap="round"/>
<path d="M494.7,351.5 l0,-3.4 q0,-2.2 1.7,-2.2 l1.0,0 l0,5.6 z" fill="#fff" stroke="#2f2e6b" stroke-width="0.85" stroke-linejoin="round"/>
<path d="M494.7,351.5 l0,3.4" fill="none" stroke="#2f2e6b" stroke-width="0.85" stroke-linejoin="round" stroke-linecap="round"/>
<path d="M506.1,351.5 l0,-3.4 q0,-2.2 -1.7,-2.2 l-1.0,0 l0,5.6 z" fill="#fff" stroke="#2f2e6b" stroke-width="0.85" stroke-linejoin="round"/>
<path d="M506.1,351.5 l0,3.4" fill="none" stroke="#2f2e6b" stroke-width="0.85" stroke-linejoin="round" stroke-linecap="round"/>
<polygon points="494.4,345.1 498.0,341.8 502.8,341.8 506.4,345.1 502.8,349.2 498.0,349.2" fill="#f2a79b" stroke="#2f2e6b" stroke-width="0.85" stroke-linejoin="round"/>
<path d="M506.9,362.8 l0,5.6 M511.1,362.8 l0,5.6" fill="none" stroke="#2f2e6b" stroke-width="1.0" stroke-linejoin="round" stroke-linecap="round"/>
<path d="M503.3,365.0 l0,-3.4 q0,-2.2 1.7,-2.2 l1.0,0 l0,5.6 z" fill="#fff" stroke="#2f2e6b" stroke-width="0.85" stroke-linejoin="round"/>
<path d="M503.3,365.0 l0,3.4" fill="none" stroke="#2f2e6b" stroke-width="0.85" stroke-linejoin="round" stroke-linecap="round"/>
<path d="M514.7,365.0 l0,-3.4 q0,-2.2 -1.7,-2.2 l-1.0,0 l0,5.6 z" fill="#fff" stroke="#2f2e6b" stroke-width="0.85" stroke-linejoin="round"/>
<path d="M514.7,365.0 l0,3.4" fill="none" stroke="#2f2e6b" stroke-width="0.85" stroke-linejoin="round" stroke-linecap="round"/>
<polygon points="503.0,358.6 506.6,355.2 511.4,355.2 515.0,358.6 511.4,362.8 506.6,362.8" fill="#f2a79b" stroke="#2f2e6b" stroke-width="0.85" stroke-linejoin="round"/>
<path d="M521.0,347.5 l0,5.2 M525.0,347.5 l0,5.2" fill="none" stroke="#2f2e6b" stroke-width="1.0" stroke-linejoin="round" stroke-linecap="round"/>
<path d="M517.5,349.6 l0,-3.1 q0,-2.1 1.6,-2.1 l0.9,0 l0,5.2 z" fill="#fff" stroke="#2f2e6b" stroke-width="0.85" stroke-linejoin="round"/>
<path d="M517.5,349.6 l0,3.1" fill="none" stroke="#2f2e6b" stroke-width="0.85" stroke-linejoin="round" stroke-linecap="round"/>
<path d="M528.5,349.6 l0,-3.1 q0,-2.1 -1.6,-2.1 l-0.9,0 l0,5.2 z" fill="#fff" stroke="#2f2e6b" stroke-width="0.85" stroke-linejoin="round"/>
<path d="M528.5,349.6 l0,3.1" fill="none" stroke="#2f2e6b" stroke-width="0.85" stroke-linejoin="round" stroke-linecap="round"/>
<polygon points="517.2,343.6 520.7,340.5 525.3,340.5 528.8,343.6 525.3,347.5 520.7,347.5" fill="#f2a79b" stroke="#2f2e6b" stroke-width="0.85" stroke-linejoin="round"/>
<polygon points="478,352 489,343.5 487.5,354 476,362.5" fill="#d98c95" stroke="#2f2e6b" stroke-width="0.9" stroke-linejoin="round"/>
<path d="M480.5,350 l-1.5,10 M483.5,347.5 l-1.5,10 M486.5,345.2 l-1.5,10 M477,356 l11,-8.5" fill="none" stroke="#2f2e6b" stroke-width="0.6" stroke-linejoin="round" stroke-linecap="round"/>
<ellipse cx="477.6" cy="376.4" rx="1.3" ry="1.8" fill="#fff" stroke="#2f2e6b" stroke-width="0.7"/>
<ellipse cx="489.1" cy="376.4" rx="1.3" ry="1.8" fill="#fff" stroke="#2f2e6b" stroke-width="0.7"/>
<ellipse cx="479.6" cy="373.8" rx="1.3" ry="1.8" fill="#fff" stroke="#2f2e6b" stroke-width="0.7"/>
<ellipse cx="491.1" cy="373.8" rx="1.3" ry="1.8" fill="#fff" stroke="#2f2e6b" stroke-width="0.7"/>
<ellipse cx="481.8" cy="371.1" rx="1.3" ry="1.8" fill="#fff" stroke="#2f2e6b" stroke-width="0.7"/>
<ellipse cx="493.2" cy="371.1" rx="1.3" ry="1.8" fill="#fff" stroke="#2f2e6b" stroke-width="0.7"/>
<ellipse cx="483.9" cy="368.5" rx="1.3" ry="1.8" fill="#fff" stroke="#2f2e6b" stroke-width="0.7"/>
<ellipse cx="495.4" cy="368.5" rx="1.3" ry="1.8" fill="#fff" stroke="#2f2e6b" stroke-width="0.7"/>
<ellipse cx="485.9" cy="365.9" rx="1.3" ry="1.8" fill="#fff" stroke="#2f2e6b" stroke-width="0.7"/>
<ellipse cx="497.4" cy="365.9" rx="1.3" ry="1.8" fill="#fff" stroke="#2f2e6b" stroke-width="0.7"/>
<polygon points="478.5,377.7 486.0,377.7 486.0,379.5 478.5,379.5" fill="#fff" stroke="#2f2e6b" stroke-width="0.8" stroke-linejoin="round"/>
<path d="M479.3,379.5 l0,3 M485.2,379.5 l0,3 M495.5,364.6 l0,3" fill="none" stroke="#2f2e6b" stroke-width="0.8" stroke-linejoin="round" stroke-linecap="round"/>
<polygon points="478.5,377.7 489,364.6 496.5,364.6 486.0,377.7" fill="#f2a79b" stroke="#2f2e6b" stroke-width="0.8" stroke-linejoin="round"/>
<ellipse cx="457.1" cy="396.2" rx="1.3" ry="1.8" fill="#fff" stroke="#2f2e6b" stroke-width="0.7"/>
<ellipse cx="468.6" cy="396.2" rx="1.3" ry="1.8" fill="#fff" stroke="#2f2e6b" stroke-width="0.7"/>
<ellipse cx="459.1" cy="393.5" rx="1.3" ry="1.8" fill="#fff" stroke="#2f2e6b" stroke-width="0.7"/>
<ellipse cx="470.6" cy="393.5" rx="1.3" ry="1.8" fill="#fff" stroke="#2f2e6b" stroke-width="0.7"/>
<ellipse cx="461.2" cy="390.9" rx="1.3" ry="1.8" fill="#fff" stroke="#2f2e6b" stroke-width="0.7"/>
<ellipse cx="472.8" cy="390.9" rx="1.3" ry="1.8" fill="#fff" stroke="#2f2e6b" stroke-width="0.7"/>
<ellipse cx="463.4" cy="388.3" rx="1.3" ry="1.8" fill="#fff" stroke="#2f2e6b" stroke-width="0.7"/>
<ellipse cx="474.9" cy="388.3" rx="1.3" ry="1.8" fill="#fff" stroke="#2f2e6b" stroke-width="0.7"/>
<ellipse cx="465.4" cy="385.6" rx="1.3" ry="1.8" fill="#fff" stroke="#2f2e6b" stroke-width="0.7"/>
<ellipse cx="476.9" cy="385.6" rx="1.3" ry="1.8" fill="#fff" stroke="#2f2e6b" stroke-width="0.7"/>
<polygon points="458,397.5 465.5,397.5 465.5,399.3 458,399.3" fill="#fff" stroke="#2f2e6b" stroke-width="0.8" stroke-linejoin="round"/>
<path d="M458.8,399.3 l0,3 M464.7,399.3 l0,3 M475.0,384.3 l0,3" fill="none" stroke="#2f2e6b" stroke-width="0.8" stroke-linejoin="round" stroke-linecap="round"/>
<polygon points="458,397.5 468.5,384.3 476.0,384.3 465.5,397.5" fill="#f2a79b" stroke="#2f2e6b" stroke-width="0.8" stroke-linejoin="round"/>
<path d="M442.5,396.5 L444,400 M449,390.5 l1,3 M455,384 l1,3 M461,377.5 l1,3 M467,371 l1,3" fill="none" stroke="#2f2e6b" stroke-width="0.9" stroke-linejoin="round" stroke-linecap="round"/>
<path d="M441,393.8 Q439.5,396 442.5,396.3 L472.8,367.3 Q474.5,365 471.5,364.8 Z" fill="#fff" stroke="#2f2e6b" stroke-width="1.1" stroke-linejoin="round"/>
<path d="M443.5,397 L473,368.5" stroke="#7b7aa8" stroke-width="0.9"/>
<ellipse cx="462" cy="374" rx="1.5" ry="2" fill="#2f2e6b"/>
<ellipse cx="465" cy="371" rx="1.5" ry="2" fill="#2f2e6b"/>
<ellipse cx="473.5" cy="377.5" rx="1.5" ry="2" fill="#2f2e6b"/>
<ellipse cx="478" cy="381.5" rx="1.5" ry="2" fill="#2f2e6b"/>
<circle cx="461" cy="372.3" r="1.2" fill="#c9a23a" stroke="#2f2e6b" stroke-width="0.4"/><circle cx="476.5" cy="380" r="1.2" fill="#e0b020"/>
<polygon points="556.5,316.8 556.5,325.3 484.5,412.9 477.4,412.9" fill="#d8edd2" stroke="#2f2e6b" stroke-width="0.8" stroke-linejoin="round"/>
<polygon points="492,404.5 520,367.5 524.5,368 496.5,405.5" fill="#c9e6c2" stroke="#2f2e6b" stroke-width="0.9" stroke-linejoin="round"/>
<polygon points="492,404.5 520,367.5 520,370.5 492,407.5" fill="#e9f4e6" stroke="#2f2e6b" stroke-width="0.8" stroke-linejoin="round"/>
<path d="M494.2,402.7 l4,0 M495.9,400.4 l4,0 M497.7,398.1 l4,0 M499.4,395.8 l4,0 M501.1,393.4 l4,0 M502.8,391.1 l4,0 M504.5,388.8 l4,0 M506.2,386.5 l4,0 M508.0,384.2 l4,0 M509.7,381.9 l4,0 M511.4,379.6 l4,0 M513.1,377.2 l4,0 M514.8,374.9 l4,0 M516.6,372.6 l4,0 M518.3,370.3 l4,0" fill="none" stroke="#46557a" stroke-width="1.0" stroke-linejoin="round" stroke-linecap="round"/>
<circle cx="520" cy="364" r="1.3" fill="#2f2e6b"/>
<polygon points="556,317 620.9,317 620.9,321.4 556,321.4" fill="#d8edd2" stroke="#2f2e6b" stroke-width="0.0" stroke-linejoin="round"/>
<path d="M556,321.4 L619,321.4" fill="none" stroke="#9aa8c8" stroke-width="0.5" stroke-linejoin="round" stroke-linecap="round"/>
<polygon points="558.0,330 564.0,318 568.0,318 562.0,330" fill="#eef7ea" stroke="#2f2e6b" stroke-width="0.75" stroke-linejoin="round"/>
<ellipse cx="567.5" cy="321.5" rx="1.5" ry="1.8" fill="#2f2e6b"/>
<path d="M566.5,323 l-1.5,6 M568.5,323 l1,6" fill="none" stroke="#2f2e6b" stroke-width="0.8" stroke-linejoin="round" stroke-linecap="round"/>
<polygon points="560.0,327 563.0,321 565.0,327" fill="#cfe8c8" stroke="#2f2e6b" stroke-width="0.5"/>
<polygon points="570.3,330 576.3,318 580.3,318 574.3,330" fill="#eef7ea" stroke="#2f2e6b" stroke-width="0.75" stroke-linejoin="round"/>
<ellipse cx="579.8" cy="321.5" rx="1.5" ry="1.8" fill="#2f2e6b"/>
<path d="M578.8,323 l-1.5,6 M580.8,323 l1,6" fill="none" stroke="#2f2e6b" stroke-width="0.8" stroke-linejoin="round" stroke-linecap="round"/>
<polygon points="572.3,327 575.3,321 577.3,327" fill="#cfe8c8" stroke="#2f2e6b" stroke-width="0.5"/>
<polygon points="582.6,330 588.6,318 592.6,318 586.6,330" fill="#eef7ea" stroke="#2f2e6b" stroke-width="0.75" stroke-linejoin="round"/>
<ellipse cx="592.1" cy="321.5" rx="1.5" ry="1.8" fill="#2f2e6b"/>
<path d="M591.1,323 l-1.5,6 M593.1,323 l1,6" fill="none" stroke="#2f2e6b" stroke-width="0.8" stroke-linejoin="round" stroke-linecap="round"/>
<polygon points="584.6,327 587.6,321 589.6,327" fill="#cfe8c8" stroke="#2f2e6b" stroke-width="0.5"/>
<polygon points="594.9,330 600.9,318 604.9,318 598.9,330" fill="#eef7ea" stroke="#2f2e6b" stroke-width="0.75" stroke-linejoin="round"/>
<ellipse cx="604.4" cy="321.5" rx="1.5" ry="1.8" fill="#2f2e6b"/>
<path d="M603.4,323 l-1.5,6 M605.4,323 l1,6" fill="none" stroke="#2f2e6b" stroke-width="0.8" stroke-linejoin="round" stroke-linecap="round"/>
<polygon points="596.9,327 599.9,321 601.9,327" fill="#cfe8c8" stroke="#2f2e6b" stroke-width="0.5"/>
<polygon points="607.2,330 613.2,318 617.2,318 611.2,330" fill="#eef7ea" stroke="#2f2e6b" stroke-width="0.75" stroke-linejoin="round"/>
<ellipse cx="616.7" cy="321.5" rx="1.5" ry="1.8" fill="#2f2e6b"/>
<path d="M615.7,323 l-1.5,6 M617.7,323 l1,6" fill="none" stroke="#2f2e6b" stroke-width="0.8" stroke-linejoin="round" stroke-linecap="round"/>
<polygon points="609.2,327 612.2,321 614.2,327" fill="#cfe8c8" stroke="#2f2e6b" stroke-width="0.5"/>
<path d="M557,324.6 L617,324.6" fill="none" stroke="#2f2e6b" stroke-width="1.1" stroke-linejoin="round" stroke-linecap="round"/>
<ellipse cx="560.2" cy="349.9" rx="1.5" ry="2" fill="#2f2e6b"/>
<ellipse cx="563.5" cy="345.8" rx="1.5" ry="2" fill="#2f2e6b"/>
<ellipse cx="566.8" cy="341.6" rx="1.5" ry="2" fill="#2f2e6b"/>
<polygon points="548,352 556.5,352 556.5,354.5 548,354.5" fill="#fff" stroke="#2f2e6b" stroke-width="0.8" stroke-linejoin="round"/>
<path d="M548.8,354.5 l0,2 M555.7,354.5 l0,2" fill="none" stroke="#2f2e6b" stroke-width="0.8" stroke-linejoin="round" stroke-linecap="round"/>
<polygon points="548,352 558,339.5 566.5,339.5 556.5,352" fill="#a8d89c" stroke="#2f2e6b" stroke-width="0.9" stroke-linejoin="round"/>
<ellipse cx="581.7" cy="349.9" rx="1.5" ry="2" fill="#2f2e6b"/>
<ellipse cx="585.0" cy="345.8" rx="1.5" ry="2" fill="#2f2e6b"/>
<ellipse cx="588.3" cy="341.6" rx="1.5" ry="2" fill="#2f2e6b"/>
<polygon points="569.5,352 578.0,352 578.0,354.5 569.5,354.5" fill="#fff" stroke="#2f2e6b" stroke-width="0.8" stroke-linejoin="round"/>
<path d="M570.3,354.5 l0,2 M577.2,354.5 l0,2" fill="none" stroke="#2f2e6b" stroke-width="0.8" stroke-linejoin="round" stroke-linecap="round"/>
<polygon points="569.5,352 579.5,339.5 588.0,339.5 578.0,352" fill="#a8d89c" stroke="#2f2e6b" stroke-width="0.9" stroke-linejoin="round"/>
<ellipse cx="545.0" cy="372.8" rx="1.5" ry="2" fill="#2f2e6b"/>
<ellipse cx="549.0" cy="368.5" rx="1.5" ry="2" fill="#2f2e6b"/>
<ellipse cx="553.0" cy="364.2" rx="1.5" ry="2" fill="#2f2e6b"/>
<polygon points="532,375 541,375 541,377.5 532,377.5" fill="#fff" stroke="#2f2e6b" stroke-width="0.8" stroke-linejoin="round"/>
<path d="M532.8,377.5 l0,2 M540.2,377.5 l0,2" fill="none" stroke="#2f2e6b" stroke-width="0.8" stroke-linejoin="round" stroke-linecap="round"/>
<polygon points="532,375 544,362 553,362 541,375" fill="#a8d89c" stroke="#2f2e6b" stroke-width="0.9" stroke-linejoin="round"/>
<ellipse cx="567.0" cy="372.8" rx="1.5" ry="2" fill="#2f2e6b"/>
<ellipse cx="571.0" cy="368.5" rx="1.5" ry="2" fill="#2f2e6b"/>
<ellipse cx="575.0" cy="364.2" rx="1.5" ry="2" fill="#2f2e6b"/>
<polygon points="554,375 563,375 563,377.5 554,377.5" fill="#fff" stroke="#2f2e6b" stroke-width="0.8" stroke-linejoin="round"/>
<path d="M554.8,377.5 l0,2 M562.2,377.5 l0,2" fill="none" stroke="#2f2e6b" stroke-width="0.8" stroke-linejoin="round" stroke-linecap="round"/>
<polygon points="554,375 566,362 575,362 563,375" fill="#a8d89c" stroke="#2f2e6b" stroke-width="0.9" stroke-linejoin="round"/>
<path d="M527.5,394.5 q-1.5,-5 3.5,-6 q1.5,-5.5 6,-2.5 q4.5,-3 6.5,2 q4,1.5 2,6.5 z" fill="#9acb92" stroke="#2f2e6b" stroke-width="0.9"/>
<path d="M531.5,391 l1.5,1 M536.5,388 l1.5,1 M539.5,391.5 l1.5,1 M534.5,393 l1.5,-1" fill="none" stroke="#2f2e6b" stroke-width="0.7" stroke-linejoin="round" stroke-linecap="round"/>
<circle cx="537.5" cy="390.5" r="1.2" fill="#d8f0d0"/>
<path d="M517.5,405.5 q-1.5,-5 3.5,-6 q1.5,-5.5 6,-2.5 q4.5,-3 6.5,2 q4,1.5 2,6.5 z" fill="#9acb92" stroke="#2f2e6b" stroke-width="0.9"/>
<path d="M521.5,402 l1.5,1 M526.5,399 l1.5,1 M529.5,402.5 l1.5,1 M524.5,404 l1.5,-1" fill="none" stroke="#2f2e6b" stroke-width="0.7" stroke-linejoin="round" stroke-linecap="round"/>
<circle cx="527.5" cy="401.5" r="1.2" fill="#d8f0d0"/>
<ellipse cx="520.5" cy="392" rx="3.1" ry="1.3" fill="#7d86a8" stroke="#2f2e6b" stroke-width="0.8"/>
<path d="M519.0,393 l0,1.5 M522.0,393 l0,1.5" fill="none" stroke="#2f2e6b" stroke-width="0.7" stroke-linejoin="round" stroke-linecap="round"/>
<ellipse cx="549.5" cy="392" rx="3.1" ry="1.3" fill="#7d86a8" stroke="#2f2e6b" stroke-width="0.8"/>
<path d="M548.0,393 l0,1.5 M551.0,393 l0,1.5" fill="none" stroke="#2f2e6b" stroke-width="0.7" stroke-linejoin="round" stroke-linecap="round"/>
<ellipse cx="511.5" cy="402.5" rx="3.1" ry="1.3" fill="#7d86a8" stroke="#2f2e6b" stroke-width="0.8"/>
<path d="M510.0,403.5 l0,1.5 M513.0,403.5 l0,1.5" fill="none" stroke="#2f2e6b" stroke-width="0.7" stroke-linejoin="round" stroke-linecap="round"/>
<ellipse cx="540.5" cy="402.5" rx="3.1" ry="1.3" fill="#7d86a8" stroke="#2f2e6b" stroke-width="0.8"/>
<path d="M539.0,403.5 l0,1.5 M542.0,403.5 l0,1.5" fill="none" stroke="#2f2e6b" stroke-width="0.7" stroke-linejoin="round" stroke-linecap="round"/>
<path d="M600,351.2 L627.2,351.2 L587.5,404.8 Q577,403.5 573.5,397 Q571.5,389 575.6,382.3 Q582,376.5 584.6,370.4 Q584.5,362 589.5,356.5 Q594,352 600,351.2 Z" fill="#fbfbf7" stroke="#2f2e6b" stroke-width="0.9"/>
<clipPath id="gclip"><path d="M600,351.2 L627.2,351.2 L587.5,404.8 Q577,403.5 573.5,397 Q571.5,389 575.6,382.3 Q582,376.5 584.6,370.4 Q584.5,362 589.5,356.5 Q594,352 600,351.2 Z"/></clipPath>
<path d="M605.6,390.6 l1.5,-0.3 M614.9,401.0 l1.5,-0.3 M612.0,400.0 l1.5,-0.3 M573.6,376.2 l1.5,-0.3 M622.9,385.7 l1.5,-0.3 M620.6,357.9 l1.5,-0.3 M597.3,364.8 l1.5,-0.3 M601.4,381.8 l1.5,-0.3 M572.7,363.3 l1.5,-0.3 M587.1,399.6 l1.5,-0.3 M613.3,360.3 l1.5,-0.3 M615.0,359.2 l1.5,-0.3 M605.3,358.6 l1.5,-0.3 M572.1,397.3 l1.5,-0.3 M583.3,363.2 l1.5,-0.3 M625.1,397.4 l1.5,-0.3 M587.6,402.0 l1.5,-0.3 M601.1,387.2 l1.5,-0.3 M583.1,400.9 l1.5,-0.3 M609.3,402.3 l1.5,-0.3 M620.3,367.5 l1.5,-0.3 M591.5,360.6 l1.5,-0.3 M579.9,355.4 l1.5,-0.3 M588.3,383.4 l1.5,-0.3 M572.2,387.3 l1.5,-0.3 M590.2,368.1 l1.5,-0.3 M616.2,377.0 l1.5,-0.3 M589.1,377.0 l1.5,-0.3 M610.1,355.0 l1.5,-0.3 M624.7,353.2 l1.5,-0.3 M612.5,395.9 l1.5,-0.3 M573.0,393.0 l1.5,-0.3 M591.8,382.1 l1.5,-0.3 M572.5,354.4 l1.5,-0.3 M581.8,401.7 l1.5,-0.3 M582.6,391.3 l1.5,-0.3 M622.2,401.0 l1.5,-0.3 M590.6,370.4 l1.5,-0.3 M600.3,392.3 l1.5,-0.3 M577.8,390.9 l1.5,-0.3 M615.1,396.7 l1.5,-0.3 M574.0,401.2 l1.5,-0.3 M576.9,369.7 l1.5,-0.3 M605.0,399.7 l1.5,-0.3 M590.4,400.1 l1.5,-0.3 M601.4,368.2 l1.5,-0.3 M589.1,361.2 l1.5,-0.3 M576.2,359.7 l1.5,-0.3 M609.2,403.8 l1.5,-0.3 M580.7,354.5 l1.5,-0.3 M625.3,379.7 l1.5,-0.3 M593.9,364.3 l1.5,-0.3 M604.1,395.0 l1.5,-0.3 M596.6,373.9 l1.5,-0.3 M575.0,399.6 l1.5,-0.3 M573.8,377.7 l1.5,-0.3 M617.3,358.8 l1.5,-0.3 M611.5,401.4 l1.5,-0.3 M606.0,393.0 l1.5,-0.3 M577.8,374.6 l1.5,-0.3 M580.1,395.9 l1.5,-0.3 M587.9,375.6 l1.5,-0.3 M626.0,396.3 l1.5,-0.3 M624.7,375.6 l1.5,-0.3 M598.4,389.9 l1.5,-0.3 M597.9,367.1 l1.5,-0.3 M593.8,359.6 l1.5,-0.3 M592.4,403.4 l1.5,-0.3 M623.8,384.6 l1.5,-0.3 M599.0,369.6 l1.5,-0.3 M576.8,366.2 l1.5,-0.3 M614.2,397.1 l1.5,-0.3 M591.5,392.9 l1.5,-0.3 M613.8,388.1 l1.5,-0.3 M607.9,391.5 l1.5,-0.3 M591.6,388.6 l1.5,-0.3 M587.2,377.3 l1.5,-0.3 M613.6,387.9 l1.5,-0.3 M587.9,401.2 l1.5,-0.3 M607.1,382.2 l1.5,-0.3 M572.6,380.4 l1.5,-0.3 M585.5,386.9 l1.5,-0.3 M597.0,394.5 l1.5,-0.3 M607.0,393.5 l1.5,-0.3 M590.8,385.5 l1.5,-0.3 M611.8,395.1 l1.5,-0.3 M590.9,395.8 l1.5,-0.3 M619.0,387.8 l1.5,-0.3 M624.7,401.7 l1.5,-0.3 M600.0,379.5 l1.5,-0.3 M581.0,395.5 l1.5,-0.3 M622.6,376.8 l1.5,-0.3 M609.3,389.4 l1.5,-0.3 M611.4,360.9 l1.5,-0.3 M614.1,382.2 l1.5,-0.3 M607.9,373.9 l1.5,-0.3 M605.7,392.3 l1.5,-0.3 M606.4,389.5 l1.5,-0.3 M573.5,360.3 l1.5,-0.3 M595.8,385.8 l1.5,-0.3 M583.8,387.7 l1.5,-0.3 M606.1,354.2 l1.5,-0.3 M597.5,363.8 l1.5,-0.3 M574.9,358.9 l1.5,-0.3 M589.1,361.4 l1.5,-0.3 M582.4,353.9 l1.5,-0.3 M597.1,371.8 l1.5,-0.3 M605.0,382.7 l1.5,-0.3 M584.8,399.0 l1.5,-0.3 M572.0,373.1 l1.5,-0.3 M587.0,373.3 l1.5,-0.3 M578.2,395.2 l1.5,-0.3 M592.2,353.9 l1.5,-0.3 M605.1,356.9 l1.5,-0.3 M601.4,369.6 l1.5,-0.3 M603.4,401.8 l1.5,-0.3 M616.2,373.8 l1.5,-0.3 M615.9,385.4 l1.5,-0.3 M591.9,359.4 l1.5,-0.3 M604.2,381.3 l1.5,-0.3" stroke="#5f6d86" stroke-width="0.75" clip-path="url(#gclip)"/>
<polygon points="607.3,360 610,358.5 614.6,363 612,364.5" fill="#8c6a2a" stroke="#2f2e6b" stroke-width="0.6" stroke-linejoin="round"/>
<polygon points="589.5,380.5 595,375 597.4,376.5 592,382.3" fill="#8c6a2a" stroke="#2f2e6b" stroke-width="0.6" stroke-linejoin="round"/>
<ellipse cx="598.5" cy="364.5" rx="3.6" ry="2.4" fill="#fff" stroke="#2f2e6b" stroke-width="0.75"/>
<ellipse cx="607" cy="376" rx="3" ry="2.2" fill="#fff" stroke="#2f2e6b" stroke-width="0.75"/>
<ellipse cx="588.8" cy="390.5" rx="3.8" ry="2.4" fill="#fff" stroke="#2f2e6b" stroke-width="0.75"/>
<polygon points="620.9,316.8 620.9,325 611,339 602.7,340.6" fill="#fbe6cc" stroke="#2f2e6b" stroke-width="0.8" stroke-linejoin="round"/>
<polygon points="602.7,340.6 633.3,341.8 630,350.3 602.7,350.3" fill="#d8edd2" stroke="#2f2e6b" stroke-width="0.9" stroke-linejoin="round"/>
<rect x="606.7" y="344" width="12" height="4" rx="1" fill="#fff" stroke="#2f2e6b" stroke-width="0.7"/>
<rect x="620.3" y="344" width="3.4" height="4" rx="0.8" fill="#fff" stroke="#2f2e6b" stroke-width="0.7"/>
<polygon points="633.3,341.8 630,350.3 590.4,412.9 584.7,412.9" fill="#fbe6cc" stroke="#2f2e6b" stroke-width="0.8" stroke-linejoin="round"/>
<path d="M604,390 l1,-3" fill="none" stroke="#2f2e6b" stroke-width="1.0" stroke-linejoin="round" stroke-linecap="round"/>
<path d="M601,394 l1,-3" fill="none" stroke="#2f2e6b" stroke-width="1.0" stroke-linejoin="round" stroke-linecap="round"/>
<path d="M598,398 l1,-3" fill="none" stroke="#2f2e6b" stroke-width="1.0" stroke-linejoin="round" stroke-linecap="round"/>
<rect x="630" y="321" width="12" height="6" fill="#5d5b88" stroke="#2f2e6b" stroke-width="0.7"/>
<ellipse cx="624" cy="330" rx="3.2" ry="2" fill="#f4c48f" stroke="#2f2e6b" stroke-width="0.7"/>
<ellipse cx="634" cy="330" rx="3.2" ry="2" fill="#f4c48f" stroke="#2f2e6b" stroke-width="0.7"/>
<ellipse cx="644" cy="330" rx="3.2" ry="2" fill="#f4c48f" stroke="#2f2e6b" stroke-width="0.7"/>
<polygon points="619,332.8 650,332.8 650,337.8 619,337.8" fill="#fff" stroke="#2f2e6b" stroke-width="0.8" stroke-linejoin="round"/>
<path d="M634.5,332.8 l0,5" fill="none" stroke="#2f2e6b" stroke-width="0.6" stroke-linejoin="round" stroke-linecap="round"/>
<rect x="668.6" y="321" width="12" height="6" fill="#5d5b88" stroke="#2f2e6b" stroke-width="0.7"/>
<ellipse cx="662.6" cy="330" rx="3.2" ry="2" fill="#f4c48f" stroke="#2f2e6b" stroke-width="0.7"/>
<ellipse cx="672.6" cy="330" rx="3.2" ry="2" fill="#f4c48f" stroke="#2f2e6b" stroke-width="0.7"/>
<ellipse cx="682.6" cy="330" rx="3.2" ry="2" fill="#f4c48f" stroke="#2f2e6b" stroke-width="0.7"/>
<polygon points="657.6,332.8 688.6,332.8 688.6,337.8 657.6,337.8" fill="#fff" stroke="#2f2e6b" stroke-width="0.8" stroke-linejoin="round"/>
<path d="M673.1,332.8 l0,5" fill="none" stroke="#2f2e6b" stroke-width="0.6" stroke-linejoin="round" stroke-linecap="round"/>
<circle cx="654.6" cy="321.5" r="2" fill="#e8b81a" stroke="#2f2e6b" stroke-width="0.5"/>
<path d="M648.5,345 Q648.5,343.3 650.5,343.3 L676,343.3 Q678.3,343.3 677.6,345.5 L673.5,354.8 Q673,356 671.3,356 L665,356 Q663.2,356 663.8,354.3 L665.3,349.5 L650.5,349.5 Q648.5,349.5 648.5,347.5 Z" fill="#f4c48f" stroke="#2f2e6b" stroke-width="0.9" stroke-linejoin="round"/>
<path d="M649,346.3 L677,346.3 M657,343.5 l-1,6 M665.5,343.5 l-1,6" fill="none" stroke="#2f2e6b" stroke-width="0.55" stroke-linejoin="round" stroke-linecap="round"/>
<path d="M649.5,351.5 L660.5,351.5 Q662.5,351.5 661.8,353.5 Q661,355.8 658,355.8 L652,355.8 Q649,355.8 648.5,353.5 Q648.2,351.5 649.5,351.5 Z" fill="#fff" stroke="#2f2e6b" stroke-width="0.8"/>
<rect x="637.5" y="356.8" width="24.8" height="6.5" rx="2" fill="#f4c48f" stroke="#2f2e6b" stroke-width="0.9"/>
<path d="M638,360 L662,360 M646,357 l0,6 M654,357 l0,6" fill="none" stroke="#2f2e6b" stroke-width="0.55" stroke-linejoin="round" stroke-linecap="round"/>
<path d="M631.5,321.8 l0,3.5" fill="none" stroke="#d8d8ee" stroke-width="0.5" stroke-linejoin="round" stroke-linecap="round"/>
<path d="M634.7,321.8 l0,3.5" fill="none" stroke="#d8d8ee" stroke-width="0.5" stroke-linejoin="round" stroke-linecap="round"/>
<path d="M637.9,321.8 l0,3.5" fill="none" stroke="#d8d8ee" stroke-width="0.5" stroke-linejoin="round" stroke-linecap="round"/>
<path d="M669.5,321.8 l0,3.5" fill="none" stroke="#d8d8ee" stroke-width="0.5" stroke-linejoin="round" stroke-linecap="round"/>
<path d="M672.7,321.8 l0,3.5" fill="none" stroke="#d8d8ee" stroke-width="0.5" stroke-linejoin="round" stroke-linecap="round"/>
<path d="M675.9,321.8 l0,3.5" fill="none" stroke="#d8d8ee" stroke-width="0.5" stroke-linejoin="round" stroke-linecap="round"/>
<polygon points="660,368 669,368 666,373 657,373" fill="#f4c48f" stroke="#2f2e6b" stroke-width="0.9" stroke-linejoin="round"/>
<path d="M658,373 l0,4 M666,373 l0,4 M661,373 l0,3" fill="none" stroke="#2f2e6b" stroke-width="0.8" stroke-linejoin="round" stroke-linecap="round"/>
<polygon points="653,381 662,381 659,386 650,386" fill="#f4c48f" stroke="#2f2e6b" stroke-width="0.9" stroke-linejoin="round"/>
<path d="M651,386 l0,4 M659,386 l0,4 M654,386 l0,3" fill="none" stroke="#2f2e6b" stroke-width="0.8" stroke-linejoin="round" stroke-linecap="round"/>
<polygon points="646.5,394.5 655.5,394.5 652.5,399.5 643.5,399.5" fill="#f4c48f" stroke="#2f2e6b" stroke-width="0.9" stroke-linejoin="round"/>
<path d="M644.5,399.5 l0,4 M652.5,399.5 l0,4 M647.5,399.5 l0,3" fill="none" stroke="#2f2e6b" stroke-width="0.8" stroke-linejoin="round" stroke-linecap="round"/>
<polygon points="611,402 617.5,402 617.5,403.8 611,403.8" fill="#fff" stroke="#2f2e6b" stroke-width="0.8" stroke-linejoin="round"/>
<path d="M611.8,403.8 l0,3 M616.7,403.8 l0,3 M637.5,368 l0,3" fill="none" stroke="#2f2e6b" stroke-width="0.8" stroke-linejoin="round" stroke-linecap="round"/>
<polygon points="611,402 632,368 638.5,368 617.5,402" fill="#fff" stroke="#2f2e6b" stroke-width="0.8" stroke-linejoin="round"/>
<ellipse cx="611.3" cy="398.6" rx="1.4" ry="2" fill="#5d5b88" stroke="#2f2e6b" stroke-width="0.6"/>
<ellipse cx="621.5" cy="398.6" rx="1.4" ry="2" fill="#fff" stroke="#2f2e6b" stroke-width="0.7"/>
<ellipse cx="615.5" cy="391.8" rx="1.4" ry="2" fill="#5d5b88" stroke="#2f2e6b" stroke-width="0.6"/>
<ellipse cx="625.7" cy="391.8" rx="1.4" ry="2" fill="#fff" stroke="#2f2e6b" stroke-width="0.7"/>
<ellipse cx="619.7" cy="385.0" rx="1.4" ry="2" fill="#5d5b88" stroke="#2f2e6b" stroke-width="0.6"/>
<ellipse cx="629.9" cy="385.0" rx="1.4" ry="2" fill="#fff" stroke="#2f2e6b" stroke-width="0.7"/>
<ellipse cx="623.9" cy="378.2" rx="1.4" ry="2" fill="#5d5b88" stroke="#2f2e6b" stroke-width="0.6"/>
<ellipse cx="634.1" cy="378.2" rx="1.4" ry="2" fill="#fff" stroke="#2f2e6b" stroke-width="0.7"/>
<ellipse cx="628.1" cy="371.4" rx="1.4" ry="2" fill="#5d5b88" stroke="#2f2e6b" stroke-width="0.6"/>
<ellipse cx="638.3" cy="371.4" rx="1.4" ry="2" fill="#fff" stroke="#2f2e6b" stroke-width="0.7"/>
<circle cx="625" cy="376" r="1.4" fill="#2f2e6b"/>
<circle cx="619" cy="386" r="1.4" fill="#2f2e6b"/>
<circle cx="615" cy="392" r="1.4" fill="#2f2e6b"/>
<polygon points="694,316.8 695,323.5 654.5,412.9 649.5,412.9" fill="#dfeaf8" stroke="#2f2e6b" stroke-width="0.8" stroke-linejoin="round"/>
<ellipse cx="696.8" cy="329.5" rx="2" ry="2.2" fill="#fff" stroke="#2f2e6b" stroke-width="0.75"/>
<path d="M696.8,331.5 l0,2.5" fill="none" stroke="#2f2e6b" stroke-width="0.8" stroke-linejoin="round" stroke-linecap="round"/>
<ellipse cx="711.8" cy="329.5" rx="2" ry="2.2" fill="#fff" stroke="#2f2e6b" stroke-width="0.75"/>
<path d="M711.8,331.5 l0,2.5" fill="none" stroke="#2f2e6b" stroke-width="0.8" stroke-linejoin="round" stroke-linecap="round"/>
<ellipse cx="700.8" cy="332.2" rx="2" ry="2.2" fill="#fff" stroke="#2f2e6b" stroke-width="0.75"/>
<path d="M700.8,334.2 l0,2.5" fill="none" stroke="#2f2e6b" stroke-width="0.8" stroke-linejoin="round" stroke-linecap="round"/>
<ellipse cx="707.8" cy="332.2" rx="2" ry="2.2" fill="#fff" stroke="#2f2e6b" stroke-width="0.75"/>
<path d="M707.8,334.2 l0,2.5" fill="none" stroke="#2f2e6b" stroke-width="0.8" stroke-linejoin="round" stroke-linecap="round"/>
<ellipse cx="704.3" cy="328" rx="7.6" ry="3.6" fill="#b3d0f2" stroke="#2f2e6b" stroke-width="0.85"/>
<ellipse cx="725.0" cy="330.0" rx="2" ry="2.2" fill="#fff" stroke="#2f2e6b" stroke-width="0.75"/>
<path d="M725.0,332.0 l0,2.5" fill="none" stroke="#2f2e6b" stroke-width="0.8" stroke-linejoin="round" stroke-linecap="round"/>
<ellipse cx="740.0" cy="330.0" rx="2" ry="2.2" fill="#fff" stroke="#2f2e6b" stroke-width="0.75"/>
<path d="M740.0,332.0 l0,2.5" fill="none" stroke="#2f2e6b" stroke-width="0.8" stroke-linejoin="round" stroke-linecap="round"/>
<ellipse cx="729.0" cy="332.7" rx="2" ry="2.2" fill="#fff" stroke="#2f2e6b" stroke-width="0.75"/>
<path d="M729.0,334.7 l0,2.5" fill="none" stroke="#2f2e6b" stroke-width="0.8" stroke-linejoin="round" stroke-linecap="round"/>
<ellipse cx="736.0" cy="332.7" rx="2" ry="2.2" fill="#fff" stroke="#2f2e6b" stroke-width="0.75"/>
<path d="M736.0,334.7 l0,2.5" fill="none" stroke="#2f2e6b" stroke-width="0.8" stroke-linejoin="round" stroke-linecap="round"/>
<ellipse cx="732.5" cy="328.5" rx="7.6" ry="3.6" fill="#b3d0f2" stroke="#2f2e6b" stroke-width="0.85"/>
<ellipse cx="752.5" cy="330.0" rx="2" ry="2.2" fill="#fff" stroke="#2f2e6b" stroke-width="0.75"/>
<path d="M752.5,332.0 l0,2.5" fill="none" stroke="#2f2e6b" stroke-width="0.8" stroke-linejoin="round" stroke-linecap="round"/>
<ellipse cx="767.5" cy="330.0" rx="2" ry="2.2" fill="#fff" stroke="#2f2e6b" stroke-width="0.75"/>
<path d="M767.5,332.0 l0,2.5" fill="none" stroke="#2f2e6b" stroke-width="0.8" stroke-linejoin="round" stroke-linecap="round"/>
<ellipse cx="756.5" cy="332.7" rx="2" ry="2.2" fill="#fff" stroke="#2f2e6b" stroke-width="0.75"/>
<path d="M756.5,334.7 l0,2.5" fill="none" stroke="#2f2e6b" stroke-width="0.8" stroke-linejoin="round" stroke-linecap="round"/>
<ellipse cx="763.5" cy="332.7" rx="2" ry="2.2" fill="#fff" stroke="#2f2e6b" stroke-width="0.75"/>
<path d="M763.5,334.7 l0,2.5" fill="none" stroke="#2f2e6b" stroke-width="0.8" stroke-linejoin="round" stroke-linecap="round"/>
<ellipse cx="760" cy="328.5" rx="7.6" ry="3.6" fill="#b3d0f2" stroke="#2f2e6b" stroke-width="0.85"/>
<circle cx="700.5" cy="324.5" r="1.3" fill="#c8a64a" stroke="#2f2e6b" stroke-width="0.4"/><circle cx="707" cy="324.5" r="1.3" fill="#c8a64a" stroke="#2f2e6b" stroke-width="0.4"/>
<polygon points="722.2,316.9 725.0,316.9 715.8,337.7 713.0,337.7" fill="#f4f8fd" stroke="#2f2e6b" stroke-width="0.75" stroke-linejoin="round"/>
<polygon points="749.7,316.9 752.5,316.9 743.9,337.7 741.1,337.7" fill="#f4f8fd" stroke="#2f2e6b" stroke-width="0.75" stroke-linejoin="round"/>
<polygon points="777.2,316.9 780.0,316.9 772.1,343.8 769.3000000000001,343.8" fill="#f4f8fd" stroke="#2f2e6b" stroke-width="0.75" stroke-linejoin="round"/>
<rect x="685.5" y="337" width="8.7" height="10.5" fill="#dfeaf8" stroke="#2f2e6b" stroke-width="0.85"/>
<rect x="702.7" y="337" width="21.5" height="10.5" fill="#dfeaf8" stroke="#2f2e6b" stroke-width="0.85"/>
<path d="M714,337 l0,10.5" fill="none" stroke="#2f2e6b" stroke-width="0.8" stroke-linejoin="round" stroke-linecap="round"/>
<rect x="732.1" y="337" width="19" height="10.5" fill="#dfeaf8" stroke="#2f2e6b" stroke-width="0.85"/>
<path d="M742,337 l0,10.5" fill="none" stroke="#2f2e6b" stroke-width="0.8" stroke-linejoin="round" stroke-linecap="round"/>
<rect x="759.7" y="337" width="11" height="10.5" fill="#dfeaf8" stroke="#2f2e6b" stroke-width="0.85"/>
<rect x="779.6" y="318" width="9" height="9" fill="#9fb6da" stroke="#2f2e6b" stroke-width="0.8"/>
<path d="M781,321 l6,0 M781,323.5 l6,0" fill="none" stroke="#2f2e6b" stroke-width="0.6" stroke-linejoin="round" stroke-linecap="round"/>
<polygon points="703.9,352.7 713,352.7 705,375.4 695.9,375.4" fill="#b3d0f2" stroke="#2f2e6b" stroke-width="0.9" stroke-linejoin="round"/>
<polygon points="672,364.8 703,364.8 699.4,375.4 672,375.4" fill="#b3d0f2" stroke="#2f2e6b" stroke-width="0.9" stroke-linejoin="round"/>
<path d="M672,368 L702,368 M706,353 L699,375" fill="none" stroke="#2f2e6b" stroke-width="0.6" stroke-linejoin="round" stroke-linecap="round"/>
<path d="M676,375.4 l0,4.5" fill="none" stroke="#2f2e6b" stroke-width="1.0" stroke-linejoin="round" stroke-linecap="round"/>
<ellipse cx="676" cy="376.5" rx="1.4" ry="1" fill="#2f2e6b"/>
<path d="M682,375.4 l0,4.5" fill="none" stroke="#2f2e6b" stroke-width="1.0" stroke-linejoin="round" stroke-linecap="round"/>
<ellipse cx="682" cy="376.5" rx="1.4" ry="1" fill="#2f2e6b"/>
<path d="M688,375.4 l0,4.5" fill="none" stroke="#2f2e6b" stroke-width="1.0" stroke-linejoin="round" stroke-linecap="round"/>
<ellipse cx="688" cy="376.5" rx="1.4" ry="1" fill="#2f2e6b"/>
<path d="M694,375.4 l0,4.5" fill="none" stroke="#2f2e6b" stroke-width="1.0" stroke-linejoin="round" stroke-linecap="round"/>
<ellipse cx="694" cy="376.5" rx="1.4" ry="1" fill="#2f2e6b"/>
<circle cx="695" cy="368" r="1.3" fill="#2f2e6b"/>
<circle cx="700" cy="366" r="1.3" fill="#2f2e6b"/>
<circle cx="703" cy="360" r="1.3" fill="#2f2e6b"/>
<circle cx="705" cy="355" r="1.3" fill="#2f2e6b"/>
<polygon points="684,352 696,352 696,361.8 683,361.8" fill="#c5daf3" stroke="#2f2e6b" stroke-width="0.8" stroke-linejoin="round"/>
<path d="M684,355 l12,0" fill="none" stroke="#2f2e6b" stroke-width="0.6" stroke-linejoin="round" stroke-linecap="round"/>
<circle cx="687" cy="351.5" r="1.6" fill="#2f2e6b"/><circle cx="692" cy="352" r="1.3" fill="#fff" stroke="#2f2e6b" stroke-width="0.6"/>
<rect x="726" y="359" width="34.6" height="8.8" rx="1.5" fill="#b3d0f2" stroke="#2f2e6b" stroke-width="0.9"/>
<path d="M726,362 l34.6,0" fill="none" stroke="#2f2e6b" stroke-width="0.6" stroke-linejoin="round" stroke-linecap="round"/>
<circle cx="730" cy="357.5" r="1.7" fill="#2f2e6b" stroke="#2f2e6b" stroke-width="0.5"/>
<circle cx="736" cy="355.5" r="1.7" fill="#2f2e6b" stroke="#2f2e6b" stroke-width="0.5"/>
<circle cx="743" cy="356" r="1.7" fill="#e3b429" stroke="#2f2e6b" stroke-width="0.5"/>
<circle cx="749" cy="356" r="1.7" fill="#2f2e6b" stroke="#2f2e6b" stroke-width="0.5"/>
<circle cx="755" cy="357.5" r="1.7" fill="#2f2e6b" stroke="#2f2e6b" stroke-width="0.5"/>
<path d="M684.5,390.0 l0,5.2 M689.1,390.0 l0,5.2" fill="none" stroke="#2f2e6b" stroke-width="1.0" stroke-linejoin="round" stroke-linecap="round"/>
<path d="M680.6,392.1 l0,-3.1 q0,-2.1 1.8,-2.1 l1.0,0 l0,5.2 z" fill="#fff" stroke="#2f2e6b" stroke-width="0.85" stroke-linejoin="round"/>
<path d="M680.6,392.1 l0,3.1" fill="none" stroke="#2f2e6b" stroke-width="0.85" stroke-linejoin="round" stroke-linecap="round"/>
<path d="M693.0,392.1 l0,-3.1 q0,-2.1 -1.8,-2.1 l-1.0,0 l0,5.2 z" fill="#fff" stroke="#2f2e6b" stroke-width="0.85" stroke-linejoin="round"/>
<path d="M693.0,392.1 l0,3.1" fill="none" stroke="#2f2e6b" stroke-width="0.85" stroke-linejoin="round" stroke-linecap="round"/>
<polygon points="680.3,386.1 684.2,383.0 689.4,383.0 693.3,386.1 689.4,390.0 684.2,390.0" fill="#b3d0f2" stroke="#2f2e6b" stroke-width="0.85" stroke-linejoin="round"/>
<path d="M673.0,402.0 l0,5.2 M677.6,402.0 l0,5.2" fill="none" stroke="#2f2e6b" stroke-width="1.0" stroke-linejoin="round" stroke-linecap="round"/>
<path d="M669.1,404.1 l0,-3.1 q0,-2.1 1.8,-2.1 l1.0,0 l0,5.2 z" fill="#fff" stroke="#2f2e6b" stroke-width="0.85" stroke-linejoin="round"/>
<path d="M669.1,404.1 l0,3.1" fill="none" stroke="#2f2e6b" stroke-width="0.85" stroke-linejoin="round" stroke-linecap="round"/>
<path d="M681.5,404.1 l0,-3.1 q0,-2.1 -1.8,-2.1 l-1.0,0 l0,5.2 z" fill="#fff" stroke="#2f2e6b" stroke-width="0.85" stroke-linejoin="round"/>
<path d="M681.5,404.1 l0,3.1" fill="none" stroke="#2f2e6b" stroke-width="0.85" stroke-linejoin="round" stroke-linecap="round"/>
<polygon points="668.8,398.1 672.7,395.0 677.9,395.0 681.8,398.1 677.9,402.0 672.7,402.0" fill="#b3d0f2" stroke="#2f2e6b" stroke-width="0.85" stroke-linejoin="round"/>
<path d="M697.3,402.0 l0,5.2 M701.9,402.0 l0,5.2" fill="none" stroke="#2f2e6b" stroke-width="1.0" stroke-linejoin="round" stroke-linecap="round"/>
<path d="M693.4,404.1 l0,-3.1 q0,-2.1 1.8,-2.1 l1.0,0 l0,5.2 z" fill="#fff" stroke="#2f2e6b" stroke-width="0.85" stroke-linejoin="round"/>
<path d="M693.4,404.1 l0,3.1" fill="none" stroke="#2f2e6b" stroke-width="0.85" stroke-linejoin="round" stroke-linecap="round"/>
<path d="M705.8,404.1 l0,-3.1 q0,-2.1 -1.8,-2.1 l-1.0,0 l0,5.2 z" fill="#fff" stroke="#2f2e6b" stroke-width="0.85" stroke-linejoin="round"/>
<path d="M705.8,404.1 l0,3.1" fill="none" stroke="#2f2e6b" stroke-width="0.85" stroke-linejoin="round" stroke-linecap="round"/>
<polygon points="693.1,398.1 697.0,395.0 702.2,395.0 706.1,398.1 702.2,402.0 697.0,402.0" fill="#b3d0f2" stroke="#2f2e6b" stroke-width="0.85" stroke-linejoin="round"/>
<path d="M712.7,389.5 l0,5.2 M717.3,389.5 l0,5.2" fill="none" stroke="#2f2e6b" stroke-width="1.0" stroke-linejoin="round" stroke-linecap="round"/>
<path d="M708.8,391.6 l0,-3.1 q0,-2.1 1.8,-2.1 l1.0,0 l0,5.2 z" fill="#fff" stroke="#2f2e6b" stroke-width="0.85" stroke-linejoin="round"/>
<path d="M708.8,391.6 l0,3.1" fill="none" stroke="#2f2e6b" stroke-width="0.85" stroke-linejoin="round" stroke-linecap="round"/>
<path d="M721.2,391.6 l0,-3.1 q0,-2.1 -1.8,-2.1 l-1.0,0 l0,5.2 z" fill="#fff" stroke="#2f2e6b" stroke-width="0.85" stroke-linejoin="round"/>
<path d="M721.2,391.6 l0,3.1" fill="none" stroke="#2f2e6b" stroke-width="0.85" stroke-linejoin="round" stroke-linecap="round"/>
<polygon points="708.5,385.6 712.4,382.5 717.6,382.5 721.5,385.6 717.6,389.5 712.4,389.5" fill="#b3d0f2" stroke="#2f2e6b" stroke-width="0.85" stroke-linejoin="round"/>
<circle cx="713" cy="381" r="1.2" fill="#2f2e6b"/><circle cx="720" cy="378" r="1.2" fill="#c8a64a"/>
<ellipse cx="736.5" cy="386.5" rx="1.8" ry="2.3" fill="#fff" stroke="#2f2e6b" stroke-width="0.8"/>
<ellipse cx="741.0" cy="389.1" rx="1.8" ry="2.3" fill="#fff" stroke="#2f2e6b" stroke-width="0.8"/>
<ellipse cx="745.5" cy="391.7" rx="1.8" ry="2.3" fill="#fff" stroke="#2f2e6b" stroke-width="0.8"/>
<ellipse cx="750.0" cy="394.3" rx="1.8" ry="2.3" fill="#fff" stroke="#2f2e6b" stroke-width="0.8"/>
<polygon points="734.9,382.2 742.5,380 758.3,389.8 750.8,392.8" fill="#b3d0f2" stroke="#2f2e6b" stroke-width="0.9" stroke-linejoin="round"/>
<polygon points="750.8,392.8 758.3,389.8 758.3,391.5 750.8,394.5" fill="#fff" stroke="#2f2e6b" stroke-width="0.7" stroke-linejoin="round"/>
<path d="M751,394.5 l0,3.5 M758,391.5 l0,3.5" fill="none" stroke="#2f2e6b" stroke-width="0.9" stroke-linejoin="round" stroke-linecap="round"/>
<polygon points="791.7,324 794.3,324 773,386.7 770.4,386.7" fill="#dfeaf8" stroke="#2f2e6b" stroke-width="0.8" stroke-linejoin="round"/>
<circle cx="812.0" cy="328.6" r="1.3" fill="#c8a64a" stroke="#2f2e6b" stroke-width="0.5"/>
<ellipse cx="805.0" cy="329.5" rx="1.6" ry="1.1" fill="#2f2e6b"/>
<circle cx="816.2" cy="328.6" r="1.3" fill="#c8a64a" stroke="#2f2e6b" stroke-width="0.5"/>
<ellipse cx="809.5" cy="329.5" rx="1.6" ry="1.1" fill="#2f2e6b"/>
<circle cx="820.4" cy="328.6" r="1.3" fill="#c8a64a" stroke="#2f2e6b" stroke-width="0.5"/>
<ellipse cx="814.0" cy="329.5" rx="1.6" ry="1.1" fill="#2f2e6b"/>
<circle cx="824.6" cy="328.6" r="1.3" fill="#c8a64a" stroke="#2f2e6b" stroke-width="0.5"/>
<ellipse cx="818.5" cy="329.5" rx="1.6" ry="1.1" fill="#2f2e6b"/>
<polygon points="802.5,330.1 831.3,330.1 829,337.7 798,337.7" fill="#b3d0f2" stroke="#2f2e6b" stroke-width="0.9" stroke-linejoin="round"/>
<polygon points="798,337.7 829,337.7 829,339.3 798,339.3" fill="#fff" stroke="#2f2e6b" stroke-width="0.7" stroke-linejoin="round"/>
<path d="M799.5,343.5 l0,-3.5 q1.5,-1.5 3,0 l0,3.5" fill="#fff" stroke="#2f2e6b" stroke-width="0.8"/>
<path d="M799.5,343.5 l0,1.5 M802.5,343.5 l0,1.5" fill="none" stroke="#2f2e6b" stroke-width="0.6" stroke-linejoin="round" stroke-linecap="round"/>
<path d="M803.8,343.5 l0,-3.5 q1.5,-1.5 3,0 l0,3.5" fill="#fff" stroke="#2f2e6b" stroke-width="0.8"/>
<path d="M803.8,343.5 l0,1.5 M806.8,343.5 l0,1.5" fill="none" stroke="#2f2e6b" stroke-width="0.6" stroke-linejoin="round" stroke-linecap="round"/>
<path d="M808.1,343.5 l0,-3.5 q1.5,-1.5 3,0 l0,3.5" fill="#fff" stroke="#2f2e6b" stroke-width="0.8"/>
<path d="M808.1,343.5 l0,1.5 M811.1,343.5 l0,1.5" fill="none" stroke="#2f2e6b" stroke-width="0.6" stroke-linejoin="round" stroke-linecap="round"/>
<path d="M812.4,343.5 l0,-3.5 q1.5,-1.5 3,0 l0,3.5" fill="#fff" stroke="#2f2e6b" stroke-width="0.8"/>
<path d="M812.4,343.5 l0,1.5 M815.4,343.5 l0,1.5" fill="none" stroke="#2f2e6b" stroke-width="0.6" stroke-linejoin="round" stroke-linecap="round"/>
<path d="M816.7,343.5 l0,-3.5 q1.5,-1.5 3,0 l0,3.5" fill="#fff" stroke="#2f2e6b" stroke-width="0.8"/>
<path d="M816.7,343.5 l0,1.5 M819.7,343.5 l0,1.5" fill="none" stroke="#2f2e6b" stroke-width="0.6" stroke-linejoin="round" stroke-linecap="round"/>
<path d="M821.0,343.5 l0,-3.5 q1.5,-1.5 3,0 l0,3.5" fill="#fff" stroke="#2f2e6b" stroke-width="0.8"/>
<path d="M821.0,343.5 l0,1.5 M824.0,343.5 l0,1.5" fill="none" stroke="#2f2e6b" stroke-width="0.6" stroke-linejoin="round" stroke-linecap="round"/>
<path d="M825.3,343.5 l0,-3.5 q1.5,-1.5 3,0 l0,3.5" fill="#fff" stroke="#2f2e6b" stroke-width="0.8"/>
<path d="M825.3,343.5 l0,1.5 M828.3,343.5 l0,1.5" fill="none" stroke="#2f2e6b" stroke-width="0.6" stroke-linejoin="round" stroke-linecap="round"/>
<path d="M798.5,339.3 l0,5 M828.5,339.3 l0,5" fill="none" stroke="#2f2e6b" stroke-width="0.9" stroke-linejoin="round" stroke-linecap="round"/>
<circle cx="832.7" cy="320.8" r="1.3" fill="#fff" stroke="#2f2e6b" stroke-width="0.6"/>
<polygon points="781.3,350.5 838.8,350.5 837,360.4 778.5,360.4" fill="#dfeaf8" stroke="#2f2e6b" stroke-width="0.8" stroke-linejoin="round"/>
<rect x="793.4" y="354.3" width="26.6" height="3.8" rx="0.8" fill="#fff" stroke="#2f2e6b" stroke-width="0.7"/>
<path d="M810,357.2 l5,0" fill="none" stroke="#2f2e6b" stroke-width="0.6" stroke-linejoin="round" stroke-linecap="round"/>
<circle cx="830.5" cy="360" r="1.4" fill="#e3b429" stroke="#2f2e6b" stroke-width="0.5"/>
<path d="M830.5,358.5 l0,-4 M829,356 l3,0" fill="none" stroke="#2f2e6b" stroke-width="0.7" stroke-linejoin="round" stroke-linecap="round"/>
<path d="M791.2,363.4 L821.4,363.4 L820,383 L814.5,383 L815.3,367.2 L798.5,367.2 L792.3,383 L786,383 Z" fill="#b3d0f2" stroke="#2f2e6b" stroke-width="0.9" stroke-linejoin="round" stroke-linecap="round"/>
<path d="M797,365.3 l-1,0 M812,365.3 l1,0" fill="none" stroke="#2f2e6b" stroke-width="0.7" stroke-linejoin="round" stroke-linecap="round"/>
<path d="M787.5,368.0 l-2,0.6 M822.5,368.0 l2,0.6" fill="none" stroke="#2f2e6b" stroke-width="1.0" stroke-linejoin="round" stroke-linecap="round"/>
<path d="M786.3,372.3 l-2,0.6 M822.1,372.3 l2,0.6" fill="none" stroke="#2f2e6b" stroke-width="1.0" stroke-linejoin="round" stroke-linecap="round"/>
<path d="M785.1,376.6 l-2,0.6 M821.7,376.6 l2,0.6" fill="none" stroke="#2f2e6b" stroke-width="1.0" stroke-linejoin="round" stroke-linecap="round"/>
<path d="M783.9,380.9 l-2,0.6 M821.3,380.9 l2,0.6" fill="none" stroke="#2f2e6b" stroke-width="1.0" stroke-linejoin="round" stroke-linecap="round"/>
<path d="M786.5,383 l0,2 M791.5,383 l0,2 M815,383 l0,2 M819.5,383 l0,2" fill="none" stroke="#2f2e6b" stroke-width="0.8" stroke-linejoin="round" stroke-linecap="round"/>
<polygon points="769,386.7 835.4,386.7 834.5,389.4 768.3,389.4" fill="#dfeaf8" stroke="#2f2e6b" stroke-width="0.7" stroke-linejoin="round"/>
<polygon points="768.3,389.4 834.5,389.4 830,413 760,413" fill="#dfeaf8" stroke="#2f2e6b" stroke-width="0.8" stroke-linejoin="round"/>
<path d="M772,393 L803,413" fill="none" stroke="#2f2e6b" stroke-width="1.0" stroke-linejoin="round" stroke-linecap="round"/>
<path d="M776.0,395.0 l0,18.0 M776.0,395.0 l6.5,0" fill="none" stroke="#2f2e6b" stroke-width="0.9" stroke-linejoin="round" stroke-linecap="round"/>
<path d="M782.5,399.4 l0,13.6 M782.5,399.4 l6.5,0" fill="none" stroke="#2f2e6b" stroke-width="0.9" stroke-linejoin="round" stroke-linecap="round"/>
<path d="M789.0,403.8 l0,9.2 M789.0,403.8 l6.5,0" fill="none" stroke="#2f2e6b" stroke-width="0.9" stroke-linejoin="round" stroke-linecap="round"/>
<path d="M795.5,408.2 l0,4.799999999999999 M795.5,408.2 l6.5,0" fill="none" stroke="#2f2e6b" stroke-width="0.9" stroke-linejoin="round" stroke-linecap="round"/>
<path d="M770.4,386.7 L763,413" fill="none" stroke="#2f2e6b" stroke-width="0.8" stroke-linejoin="round" stroke-linecap="round"/>
<polygon points="766,395 768,393 764,411 762,411" fill="#9fc0ea"/>
<rect x="418" y="412.9" width="405.5" height="10.8" fill="#fefefd" stroke="none"/>
<path d="M418.3,423.7 L823.5,423.7" stroke="#2f2e6b" stroke-width="0.9"/>
<rect x="418" y="412.9" width="23" height="10.8" fill="#f5d3d3" stroke="#2f2e6b" stroke-width="0.8"/>
<rect x="441" y="412.9" width="14" height="10.8" fill="#fff" stroke="#2f2e6b" stroke-width="0.8"/>
<rect x="455" y="412.9" width="21" height="10.8" fill="#f5d3d3" stroke="#2f2e6b" stroke-width="0.8"/>
<rect x="478" y="412.9" width="71" height="10.8" fill="#d8edd2" stroke="#2f2e6b" stroke-width="0.8"/>
<rect x="549" y="412.9" width="14" height="10.8" fill="#fff" stroke="#2f2e6b" stroke-width="0.8"/>
<rect x="563" y="412.9" width="20" height="10.8" fill="#d8edd2" stroke="#2f2e6b" stroke-width="0.8"/>
<rect x="585" y="412.9" width="21" height="10.8" fill="#fbe6cc" stroke="#2f2e6b" stroke-width="0.8"/>
<rect x="606" y="412.9" width="20" height="10.8" fill="#fff" stroke="#2f2e6b" stroke-width="0.8"/>
<rect x="626" y="412.9" width="24" height="10.8" fill="#fbe6cc" stroke="#2f2e6b" stroke-width="0.8"/>
<path d="M652,423.7 L652,412.9 L702.5,412.9 L702.5,423.7 Z M702.5,412.9 L702.5,410" fill="#dfeaf8" stroke="#2f2e6b" stroke-width="0.9"/>
<path d="M721.7,423.7 L721.7,410 L721.7,412.9 L760,412.9 L760,423.7 Z" fill="#dfeaf8" stroke="#2f2e6b" stroke-width="0.9"/>
<rect x="760" y="412.9" width="64" height="10.8" fill="#dfeaf8" stroke="#2f2e6b" stroke-width="0.9"/>
<path d="M443,422 l0,-7 l2,-1" fill="none" stroke="#2f2e6b" stroke-width="0.8" stroke-linejoin="round" stroke-linecap="round"/>
<path d="M448,422 l0,-7 l2,-1" fill="none" stroke="#2f2e6b" stroke-width="0.8" stroke-linejoin="round" stroke-linecap="round"/>
<path d="M608,422 l0,-7 l2,-1" fill="none" stroke="#2f2e6b" stroke-width="0.8" stroke-linejoin="round" stroke-linecap="round"/>
<path d="M613,422 l0,-7 l2,-1" fill="none" stroke="#2f2e6b" stroke-width="0.8" stroke-linejoin="round" stroke-linecap="round"/>
<path d="M553,422 l0,-7 l2,-1" fill="none" stroke="#2f2e6b" stroke-width="0.8" stroke-linejoin="round" stroke-linecap="round"/>
<rect x="495" y="416" width="5" height="4" rx="1" fill="#fff" stroke="#2f2e6b" stroke-width="0.7"/>
<rect x="505" y="416" width="5" height="4" rx="1" fill="#fff" stroke="#2f2e6b" stroke-width="0.7"/>
<rect x="515" y="416" width="5" height="4" rx="1" fill="#fff" stroke="#2f2e6b" stroke-width="0.7"/>
<rect x="525" y="416" width="5" height="4" rx="1" fill="#fff" stroke="#2f2e6b" stroke-width="0.7"/>
<path d="M511,300 L511,316" stroke="#2f2e6b" stroke-width="0.7"/>
<path d="M511,300 C517.3,298.5 523.6,303 532,301 L532,310.5 C523.6,312 517.3,308 511,309.5 Z" fill="#f2afaf" stroke="#c9c3d0" stroke-width="0.6"/>
<text x="515" y="308" font-size="6" font-weight="bold" fill="#2f2e6b">A</text>
<text x="520" y="308.5" font-size="3.5" font-weight="bold" fill="#2f2e6b">room</text>
<path d="M556.5,300 L556.5,316" stroke="#2f2e6b" stroke-width="0.7"/>
<path d="M556.5,300 C563.1,298.5 569.7,303 578.5,301 L578.5,310.5 C569.7,312 563.1,308 556.5,309.5 Z" fill="#b4dea8" stroke="#c9c3d0" stroke-width="0.6"/>
<text x="560.5" y="308" font-size="6" font-weight="bold" fill="#2f2e6b">B</text>
<text x="565.5" y="308.5" font-size="3.5" font-weight="bold" fill="#2f2e6b">room</text>
<path d="M621,300 L621,316" stroke="#2f2e6b" stroke-width="0.7"/>
<path d="M621,300 C627.6,298.5 634.2,303 643,301 L643,310.5 C634.2,312 627.6,308 621,309.5 Z" fill="#f6c79a" stroke="#c9c3d0" stroke-width="0.6"/>
<text x="625" y="308" font-size="6" font-weight="bold" fill="#2f2e6b">C</text>
<text x="630" y="308.5" font-size="3.5" font-weight="bold" fill="#2f2e6b">room</text>
<path d="M694,299 L694,317" stroke="#2f2e6b" stroke-width="0.7"/>
<path d="M694.5,299 Q705,296.5 716.5,297.5 L715,310 Q705,309 694.5,311 Z" fill="#bcd8f4" stroke="#8a88b8" stroke-width="0.5"/>
<path d="M713.5,302.5 Q726,300 737.5,296 L739,305.5 Q727,309 714.5,311.5 Z" fill="#bcd8f4" stroke="#8a88b8" stroke-width="0.5"/>
<text x="699" y="307" font-size="5.8" font-weight="bold" fill="#2f2e6b" letter-spacing="0.6">共有</text>
<text transform="translate(716,309.5) rotate(-15)" font-size="5.5" font-weight="bold" fill="#2f2e6b">スペース</text>
<rect x="633.2" y="226.9" width="78.1" height="37.6" rx="2" fill="#fffefa" stroke="#e8c868" stroke-width="1.3"/>
<circle cx="635.9" cy="229.8" r="9.4" fill="#d9a417"/>
<text x="635.9" y="233.4" font-size="10.5" fill="#fff" text-anchor="middle">1</text>
<text x="643.5" y="243" font-size="7.6" font-weight="bold" fill="#c99a1e" stroke="#c99a1e" stroke-width="0.15" letter-spacing="0.62">個室席で今日は</text>
<text x="643.5" y="254.8" font-size="7.6" font-weight="bold" fill="#c99a1e" stroke="#c99a1e" stroke-width="0.15" letter-spacing="0.62">集中ワーク</text>
<rect x="723" y="246" width="104.4" height="38" rx="2" fill="#fffefa" stroke="#e8c868" stroke-width="1.3"/>
<circle cx="725.9" cy="248" r="9.4" fill="#d9a417"/>
<text x="725.9" y="251.6" font-size="10.5" fill="#fff" text-anchor="middle">2</text>
<text x="732.5" y="262.6" font-size="7.6" font-weight="bold" fill="#c99a1e" stroke="#c99a1e" stroke-width="0.15" letter-spacing="0.62">毎週の上司との1on1は</text>
<text x="732.5" y="275" font-size="7.6" font-weight="bold" fill="#c99a1e" stroke="#c99a1e" stroke-width="0.15" letter-spacing="0.62">半個室のスペースで</text>
<rect x="468" y="456.2" width="165.8" height="37.5" rx="2" fill="#fffefa" stroke="#e8c868" stroke-width="1.3"/>
<circle cx="471.6" cy="459.3" r="9.4" fill="#d9a417"/>
<text x="471.6" y="462.90000000000003" font-size="10.5" fill="#fff" text-anchor="middle">3</text>
<text x="477.2" y="472.9" font-size="7.6" font-weight="bold" fill="#c99a1e" stroke="#c99a1e" stroke-width="0.15" letter-spacing="0.6">いつもは簡単な打ち合わせスペースから</text>
<text x="477.2" y="484.4" font-size="7.6" font-weight="bold" fill="#c99a1e" stroke="#c99a1e" stroke-width="0.15" letter-spacing="0.6">月に一度の納会スペースに！</text>
<path d="M631.8,256.5 L623,257.2 L586.8,316.6 L578,328" fill="none" stroke="#e6d28a" stroke-width="0.9" stroke-dasharray="0.7 3.2" opacity="0.65" stroke-linecap="round"/>
<path d="M722.8,275.4 L705.5,276.4 L674.9,314.7 L671,320" fill="none" stroke="#e6d28a" stroke-width="0.9" stroke-dasharray="0.7 3.2" opacity="0.65" stroke-linecap="round"/>
<path d="M634,467.4 L646,466 L662,447.7 L686.4,406.8" fill="none" stroke="#e6d28a" stroke-width="0.9" stroke-dasharray="0.7 3.2" opacity="0.65" stroke-linecap="round"/>
</svg>
</body></html>
